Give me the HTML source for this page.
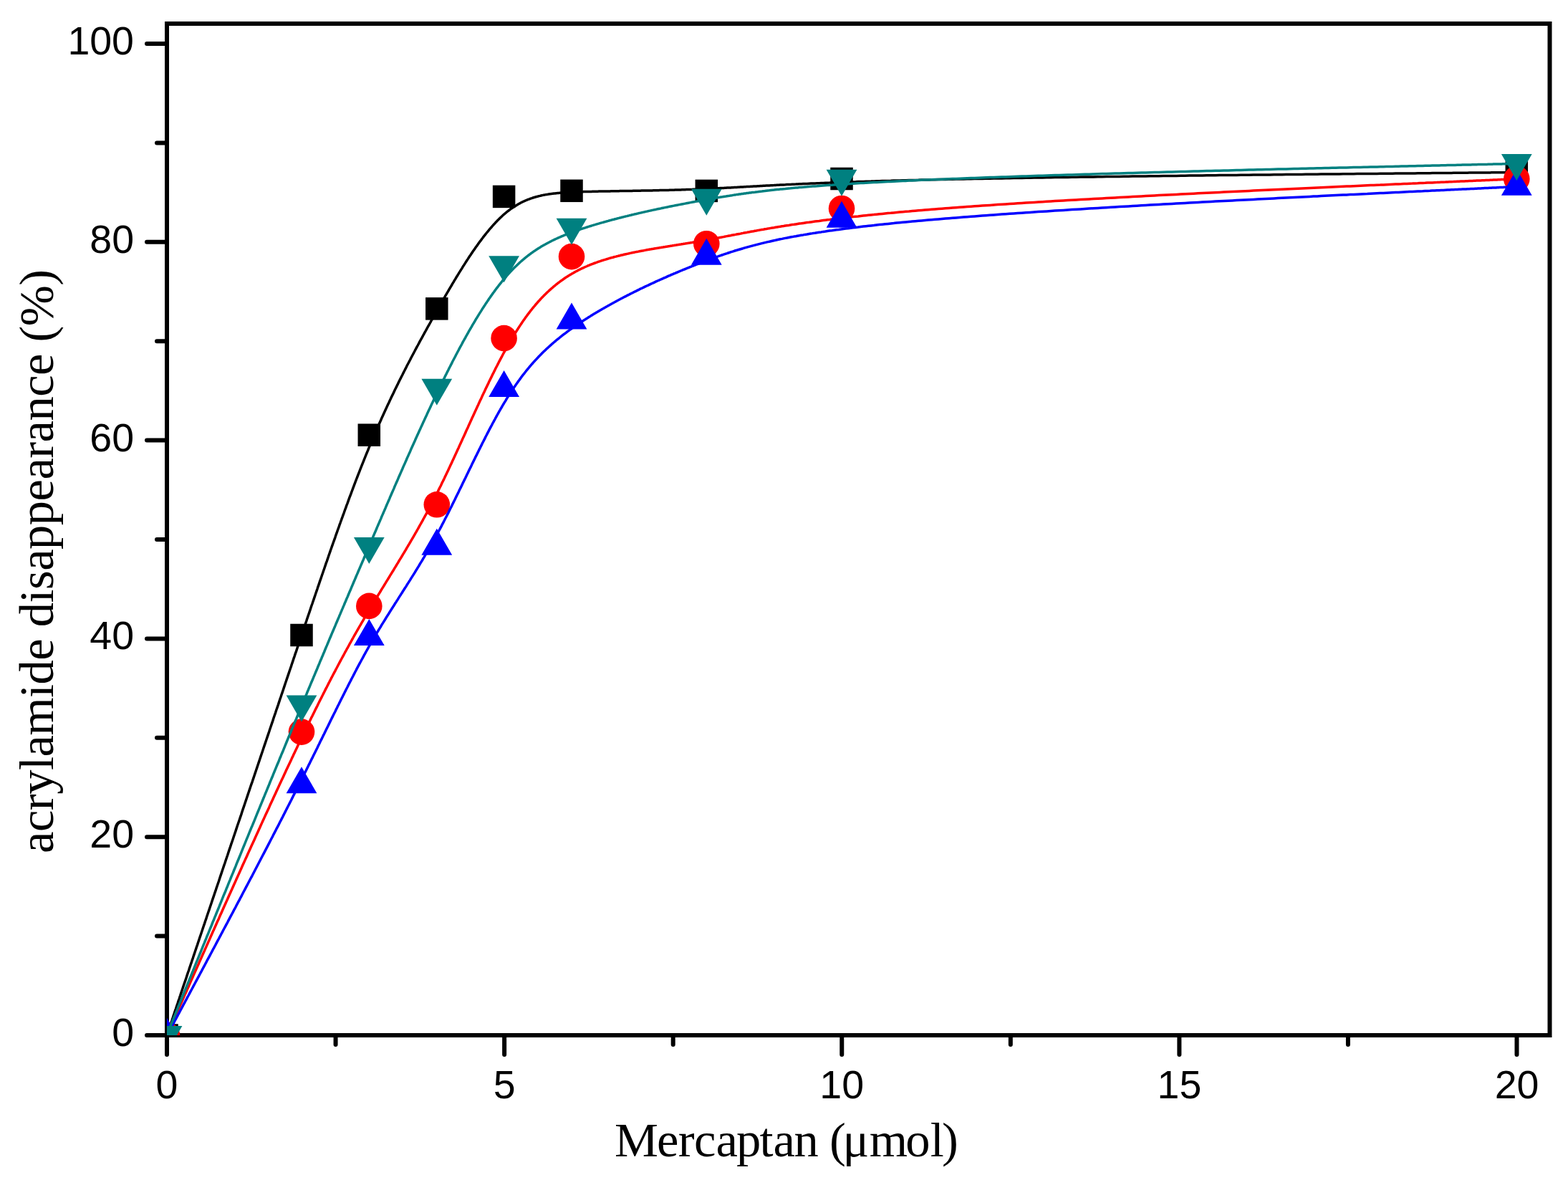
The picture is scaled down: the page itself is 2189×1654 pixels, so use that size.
<!DOCTYPE html>
<html><head><meta charset="utf-8"><style>
html,body{margin:0;padding:0;background:#fff;}
.sa{font-family:"Liberation Sans",Arial,sans-serif;}
.se{font-family:"Liberation Serif","Times New Roman",serif;}
body{width:2189px;height:1654px;overflow:hidden;}
svg{display:block;}
</style></head><body>
<svg width="2189" height="1654" viewBox="0 0 2189 1654">
<rect x="0" y="0" width="2189" height="1654" fill="#ffffff"/>
<defs><clipPath id="c"><rect x="233.0" y="33.0" width="1930.5" height="1412.0"/></clipPath></defs>
<rect x="233.0" y="33.0" width="1930.5" height="1412.0" fill="none" stroke="#000" stroke-width="6" stroke-linejoin="miter"/>
<path d="M233.0,1445.00 L205,1445.00 M233.0,1306.60 L219,1306.60 M233.0,1168.20 L205,1168.20 M233.0,1029.80 L219,1029.80 M233.0,891.40 L205,891.40 M233.0,753.00 L219,753.00 M233.0,614.60 L205,614.60 M233.0,476.20 L219,476.20 M233.0,337.80 L205,337.80 M233.0,199.40 L219,199.40 M233.0,61.00 L205,61.00 M233.00,1445.0 L233.00,1472 M468.56,1445.0 L468.56,1458 M704.12,1445.0 L704.12,1472 M939.69,1445.0 L939.69,1458 M1175.25,1445.0 L1175.25,1472 M1410.81,1445.0 L1410.81,1458 M1646.38,1445.0 L1646.38,1472 M1881.94,1445.0 L1881.94,1458 M2117.50,1445.0 L2117.50,1472" stroke="#000" stroke-width="6" stroke-linecap="round" fill="none"/>
<text x="187" y="1460.0" text-anchor="end" class="sa" font-size="55.5">0</text>
<text x="187" y="1183.2" text-anchor="end" class="sa" font-size="55.5">20</text>
<text x="187" y="906.4" text-anchor="end" class="sa" font-size="55.5">40</text>
<text x="187" y="629.6" text-anchor="end" class="sa" font-size="55.5">60</text>
<text x="187" y="352.8" text-anchor="end" class="sa" font-size="55.5">80</text>
<text x="187" y="76.0" text-anchor="end" class="sa" font-size="55.5">100</text>
<text x="233.0" y="1533" text-anchor="middle" class="sa" font-size="55.5">0</text>
<text x="704.1" y="1533" text-anchor="middle" class="sa" font-size="55.5">5</text>
<text x="1175.2" y="1533" text-anchor="middle" class="sa" font-size="55.5">10</text>
<text x="1646.4" y="1533" text-anchor="middle" class="sa" font-size="55.5">15</text>
<text x="2117.5" y="1533" text-anchor="middle" class="sa" font-size="55.5">20</text>
<text x="857.93 917.12 946.63 969.09 999.49 1027.9 1060.43 1079.49 1108.43 1142.68 1157.89 1176.55 1213.66 1264.19 1298.63 1315.1" y="1614" class="se" font-size="68.5">Mercaptan (&#956;mol)</text>
<text transform="translate(73.8,1190.9) rotate(-90)" x="0" y="0" class="se" font-size="68.5" style="letter-spacing:-0.52px">acrylamide disappearance (%)</text>
<g clip-path="url(#c)">
<path d="M233.0,1445.0 L233.0,1445.0 L233.0,1445.0 L233.0,1445.0 L233.0,1445.0 L233.0,1445.0 L233.0,1445.0 L233.0,1445.0 L233.0,1445.0 L233.0,1445.0 L233.0,1444.9 L233.0,1444.9 L233.0,1444.9 L233.0,1444.9 L233.0,1444.9 L233.1,1444.8 L233.1,1444.8 L233.1,1444.7 L233.1,1444.7 L233.1,1444.6 L233.1,1444.6 L233.2,1444.5 L233.2,1444.4 L233.2,1444.3 L233.3,1444.3 L233.3,1444.2 L233.3,1444.1 L233.4,1443.9 L233.4,1443.8 L233.4,1443.7 L233.5,1443.5 L233.5,1443.4 L233.6,1443.2 L233.7,1443.1 L233.7,1442.9 L233.8,1442.7 L233.8,1442.5 L233.9,1442.3 L234.0,1442.0 L234.1,1441.8 L234.2,1441.6 L234.2,1441.3 L234.3,1441.0 L234.4,1440.7 L234.5,1440.4 L234.7,1440.1 L234.8,1439.8 L234.9,1439.4 L235.0,1439.0 L235.1,1438.7 L235.3,1438.3 L235.4,1437.9 L235.5,1437.4 L235.7,1437.0 L235.9,1436.5 L236.0,1436.0 L236.2,1435.5 L236.4,1435.0 L236.5,1434.5 L236.7,1433.9 L236.9,1433.4 L237.1,1432.8 L237.3,1432.2 L237.5,1431.5 L237.8,1430.9 L238.0,1430.2 L238.2,1429.5 L238.5,1428.8 L238.7,1428.1 L239.0,1427.3 L239.2,1426.5 L239.5,1425.7 L239.8,1424.9 L240.1,1424.0 L240.3,1423.2 L240.6,1422.3 L241.0,1421.4 L241.3,1420.4 L241.6,1419.4 L241.9,1418.4 L242.3,1417.4 L242.6,1416.4 L243.0,1415.3 L243.4,1414.2 L243.7,1413.1 L244.1,1411.9 L244.5,1410.7 L244.9,1409.5 L245.4,1408.3 L245.8,1407.0 L246.2,1405.7 L246.7,1404.4 L247.1,1403.1 L247.6,1401.7 L248.1,1400.3 L248.5,1398.8 L249.0,1397.3 L249.5,1395.8 L250.1,1394.3 L250.6,1392.7 L251.1,1391.1 L251.7,1389.5 L252.2,1387.8 L252.8,1386.1 L253.4,1384.4 L254.0,1382.6 L254.6,1380.8 L255.2,1379.0 L255.8,1377.1 L256.5,1375.2 L257.1,1373.3 L257.8,1371.3 L258.5,1369.3 L259.2,1367.3 L259.9,1365.2 L260.6,1363.1 L261.3,1360.9 L262.0,1358.7 L262.8,1356.5 L263.6,1354.2 L264.3,1351.9 L265.1,1349.6 L265.9,1347.2 L266.7,1344.8 L267.6,1342.3 L268.4,1339.8 L269.3,1337.3 L270.1,1334.7 L271.0,1332.1 L271.9,1329.5 L272.8,1326.8 L273.7,1324.1 L274.6,1321.3 L275.6,1318.6 L276.5,1315.8 L277.5,1312.9 L278.4,1310.0 L279.4,1307.1 L280.4,1304.2 L281.4,1301.3 L282.4,1298.3 L283.4,1295.2 L284.4,1292.2 L285.5,1289.1 L286.5,1286.0 L287.6,1282.9 L288.6,1279.7 L289.7,1276.5 L290.8,1273.3 L291.9,1270.1 L293.0,1266.8 L294.1,1263.5 L295.2,1260.2 L296.3,1256.9 L297.4,1253.6 L298.6,1250.2 L299.7,1246.8 L300.9,1243.4 L302.0,1239.9 L303.2,1236.5 L304.4,1233.0 L305.6,1229.5 L306.7,1226.0 L307.9,1222.4 L309.1,1218.9 L310.3,1215.3 L311.5,1211.7 L312.7,1208.1 L314.0,1204.5 L315.2,1200.8 L316.4,1197.2 L317.7,1193.5 L318.9,1189.8 L320.1,1186.1 L321.4,1182.4 L322.6,1178.7 L323.9,1175.0 L325.2,1171.2 L326.4,1167.5 L327.7,1163.7 L329.0,1159.9 L330.2,1156.1 L331.5,1152.3 L332.8,1148.5 L334.1,1144.7 L335.4,1140.9 L336.7,1137.1 L337.9,1133.3 L339.2,1129.4 L340.5,1125.6 L341.8,1121.7 L343.1,1117.9 L344.4,1114.0 L345.7,1110.1 L347.0,1106.3 L348.3,1102.4 L349.6,1098.5 L350.9,1094.6 L352.3,1090.8 L353.6,1086.9 L354.9,1083.0 L356.2,1079.1 L357.5,1075.3 L358.8,1071.4 L360.1,1067.5 L361.4,1063.6 L362.7,1059.8 L364.0,1055.9 L365.3,1052.0 L366.6,1048.2 L367.9,1044.3 L369.2,1040.4 L370.5,1036.6 L371.8,1032.8 L373.1,1028.9 L374.4,1025.1 L375.7,1021.3 L376.9,1017.5 L378.2,1013.7 L379.5,1009.9 L380.8,1006.1 L382.0,1002.3 L383.3,998.5 L384.6,994.8 L385.8,991.0 L387.1,987.3 L388.4,983.6 L389.6,979.9 L390.8,976.2 L392.1,972.5 L393.3,968.8 L394.6,965.2 L395.8,961.5 L397.0,957.9 L398.2,954.3 L399.4,950.7 L400.6,947.1 L401.8,943.6 L403.0,940.1 L404.2,936.5 L405.4,933.0 L406.6,929.6 L407.7,926.1 L408.9,922.6 L410.0,919.2 L411.2,915.8 L412.3,912.4 L413.5,909.1 L414.6,905.7 L415.7,902.4 L416.8,899.1 L417.9,895.8 L419.0,892.5 L420.1,889.3 L421.2,886.0 L422.3,882.8 L423.4,879.6 L424.5,876.4 L425.6,873.2 L426.6,870.1 L427.7,867.0 L428.7,863.8 L429.8,860.7 L430.8,857.7 L431.9,854.6 L432.9,851.6 L433.9,848.5 L434.9,845.5 L436.0,842.5 L437.0,839.5 L438.0,836.6 L439.0,833.6 L440.0,830.7 L441.0,827.8 L442.0,824.9 L443.0,822.0 L443.9,819.1 L444.9,816.3 L445.9,813.4 L446.8,810.6 L447.8,807.8 L448.8,805.0 L449.7,802.3 L450.7,799.5 L451.6,796.8 L452.6,794.0 L453.5,791.3 L454.4,788.6 L455.3,785.9 L456.3,783.3 L457.2,780.6 L458.1,778.0 L459.0,775.3 L459.9,772.7 L460.8,770.1 L461.7,767.5 L462.6,765.0 L463.5,762.4 L464.4,759.9 L465.3,757.3 L466.2,754.8 L467.1,752.3 L468.0,749.8 L468.8,747.3 L469.7,744.9 L470.6,742.4 L471.4,740.0 L472.3,737.6 L473.2,735.1 L474.0,732.7 L474.9,730.3 L475.7,728.0 L476.6,725.6 L477.4,723.3 L478.3,720.9 L479.1,718.6 L480.0,716.3 L480.8,714.0 L481.6,711.7 L482.5,709.4 L483.3,707.1 L484.1,704.8 L485.0,702.6 L485.8,700.4 L486.6,698.1 L487.4,695.9 L488.2,693.7 L489.1,691.5 L489.9,689.3 L490.7,687.2 L491.5,685.0 L492.3,682.8 L493.1,680.7 L493.9,678.6 L494.7,676.4 L495.5,674.3 L496.3,672.2 L497.1,670.1 L497.9,668.0 L498.7,666.0 L499.5,663.9 L500.3,661.8 L501.1,659.8 L501.9,657.8 L502.7,655.7 L503.5,653.7 L504.3,651.7 L505.1,649.7 L505.9,647.7 L506.7,645.7 L507.5,643.7 L508.2,641.8 L509.0,639.8 L509.8,637.8 L510.6,635.9 L511.4,633.9 L512.2,632.0 L513.0,630.1 L513.8,628.2 L514.5,626.3 L515.3,624.4 L516.1,622.5 L516.9,620.6 L517.7,618.7 L518.5,616.8 L519.3,615.0 L520.1,613.1 L520.8,611.3 L521.6,609.4 L522.4,607.6 L523.2,605.7 L524.0,603.9 L524.8,602.1 L525.6,600.3 L526.3,598.5 L527.1,596.7 L527.9,594.9 L528.7,593.1 L529.5,591.3 L530.3,589.5 L531.1,587.8 L531.9,586.0 L532.6,584.2 L533.4,582.5 L534.2,580.8 L535.0,579.0 L535.8,577.3 L536.6,575.6 L537.4,573.8 L538.2,572.1 L538.9,570.4 L539.7,568.7 L540.5,567.0 L541.3,565.3 L542.1,563.6 L542.9,562.0 L543.7,560.3 L544.4,558.6 L545.2,557.0 L546.0,555.3 L546.8,553.6 L547.6,552.0 L548.4,550.4 L549.2,548.7 L550.0,547.1 L550.7,545.5 L551.5,543.8 L552.3,542.2 L553.1,540.6 L553.9,539.0 L554.7,537.4 L555.5,535.8 L556.2,534.2 L557.0,532.6 L557.8,531.0 L558.6,529.4 L559.4,527.9 L560.2,526.3 L561.0,524.7 L561.8,523.2 L562.5,521.6 L563.3,520.1 L564.1,518.5 L564.9,517.0 L565.7,515.4 L566.5,513.9 L567.3,512.3 L568.0,510.8 L568.8,509.3 L569.6,507.8 L570.4,506.3 L571.2,504.7 L572.0,503.2 L572.8,501.7 L573.5,500.2 L574.3,498.7 L575.1,497.2 L575.9,495.7 L576.7,494.2 L577.5,492.8 L578.3,491.3 L579.1,489.8 L579.8,488.3 L580.6,486.9 L581.4,485.4 L582.2,483.9 L583.0,482.5 L583.8,481.0 L584.6,479.5 L585.3,478.1 L586.1,476.6 L586.9,475.2 L587.7,473.7 L588.5,472.3 L589.3,470.9 L590.1,469.4 L590.8,468.0 L591.6,466.6 L592.4,465.1 L593.2,463.7 L594.0,462.3 L594.8,460.8 L595.6,459.4 L596.3,458.0 L597.1,456.6 L597.9,455.2 L598.7,453.8 L599.5,452.4 L600.3,451.0 L601.1,449.5 L601.8,448.1 L602.6,446.7 L603.4,445.3 L604.2,443.9 L605.0,442.5 L605.8,441.2 L606.5,439.8 L607.3,438.4 L608.1,437.0 L608.9,435.6 L609.7,434.2 L610.5,432.8 L611.3,431.4 L612.0,430.0 L612.8,428.7 L613.6,427.3 L614.4,425.9 L615.2,424.5 L616.0,423.2 L616.7,421.8 L617.5,420.4 L618.3,419.0 L619.1,417.7 L619.9,416.3 L620.7,415.0 L621.4,413.6 L622.2,412.2 L623.0,410.9 L623.8,409.5 L624.6,408.2 L625.4,406.8 L626.2,405.5 L626.9,404.2 L627.7,402.8 L628.5,401.5 L629.3,400.2 L630.1,398.8 L630.9,397.5 L631.6,396.2 L632.4,394.9 L633.2,393.6 L634.0,392.2 L634.8,390.9 L635.6,389.6 L636.3,388.3 L637.1,387.0 L637.9,385.7 L638.7,384.5 L639.5,383.2 L640.3,381.9 L641.0,380.6 L641.8,379.4 L642.6,378.1 L643.4,376.8 L644.2,375.6 L645.0,374.3 L645.7,373.1 L646.5,371.8 L647.3,370.6 L648.1,369.4 L648.9,368.1 L649.7,366.9 L650.4,365.7 L651.2,364.5 L652.0,363.3 L652.8,362.1 L653.6,360.9 L654.3,359.7 L655.1,358.5 L655.9,357.3 L656.7,356.2 L657.5,355.0 L658.3,353.8 L659.0,352.7 L659.8,351.5 L660.6,350.4 L661.4,349.2 L662.2,348.1 L663.0,347.0 L663.7,345.9 L664.5,344.8 L665.3,343.7 L666.1,342.6 L666.9,341.5 L667.7,340.4 L668.4,339.3 L669.2,338.2 L670.0,337.2 L670.8,336.1 L671.6,335.1 L672.4,334.0 L673.1,333.0 L673.9,332.0 L674.7,330.9 L675.5,329.9 L676.3,328.9 L677.1,327.9 L677.8,326.9 L678.6,326.0 L679.4,325.0 L680.2,324.0 L681.0,323.1 L681.8,322.1 L682.5,321.2 L683.3,320.2 L684.1,319.3 L684.9,318.4 L685.7,317.5 L686.5,316.6 L687.2,315.7 L688.0,314.8 L688.8,313.9 L689.6,313.1 L690.4,312.2 L691.2,311.4 L691.9,310.5 L692.7,309.7 L693.5,308.9 L694.3,308.1 L695.1,307.3 L695.9,306.5 L696.6,305.7 L697.4,304.9 L698.2,304.2 L699.0,303.4 L699.8,302.7 L700.6,302.0 L701.3,301.2 L702.1,300.5 L702.9,299.8 L703.7,299.1 L704.5,298.5 L705.3,297.8 L706.1,297.1 L706.8,296.5 L707.6,295.8 L708.4,295.2 L709.2,294.6 L710.0,294.0 L710.8,293.4 L711.6,292.8 L712.3,292.2 L713.1,291.6 L713.9,291.1 L714.7,290.5 L715.5,290.0 L716.3,289.4 L717.1,288.9 L717.9,288.4 L718.7,287.9 L719.5,287.4 L720.3,286.9 L721.1,286.4 L721.9,285.9 L722.7,285.5 L723.5,285.0 L724.3,284.5 L725.1,284.1 L725.9,283.7 L726.7,283.2 L727.5,282.8 L728.3,282.4 L729.1,282.0 L729.9,281.6 L730.7,281.2 L731.6,280.9 L732.4,280.5 L733.2,280.1 L734.0,279.8 L734.8,279.4 L735.7,279.1 L736.5,278.7 L737.3,278.4 L738.2,278.1 L739.0,277.8 L739.8,277.5 L740.7,277.2 L741.5,276.9 L742.4,276.6 L743.2,276.3 L744.1,276.0 L744.9,275.8 L745.8,275.5 L746.7,275.2 L747.5,275.0 L748.4,274.7 L749.3,274.5 L750.1,274.3 L751.0,274.1 L751.9,273.8 L752.8,273.6 L753.7,273.4 L754.5,273.2 L755.4,273.0 L756.3,272.8 L757.2,272.6 L758.1,272.4 L759.0,272.2 L759.9,272.1 L760.9,271.9 L761.8,271.7 L762.7,271.6 L763.6,271.4 L764.6,271.3 L765.5,271.1 L766.4,271.0 L767.4,270.8 L768.3,270.7 L769.3,270.6 L770.2,270.4 L771.2,270.3 L772.1,270.2 L773.1,270.1 L774.1,270.0 L775.1,269.9 L776.0,269.8 L777.0,269.7 L778.0,269.6 L779.0,269.5 L780.0,269.4 L781.0,269.3 L782.0,269.2 L783.0,269.1 L784.0,269.0 L785.1,269.0 L786.1,268.9 L787.1,268.8 L788.2,268.7 L789.2,268.7 L790.3,268.6 L791.3,268.6 L792.4,268.5 L793.5,268.4 L794.5,268.4 L795.6,268.3 L796.7,268.3 L797.8,268.2 L798.9,268.2 L800.0,268.1 L801.1,268.1 L802.2,268.0 L803.3,268.0 L804.4,268.0 L805.6,267.9 L806.7,267.9 L807.8,267.8 L809.0,267.8 L810.1,267.8 L811.3,267.7 L812.5,267.7 L813.6,267.7 L814.8,267.6 L816.0,267.6 L817.2,267.6 L818.4,267.5 L819.6,267.5 L820.8,267.5 L822.1,267.4 L823.3,267.4 L824.5,267.4 L825.7,267.4 L827.0,267.3 L828.2,267.3 L829.5,267.3 L830.8,267.2 L832.0,267.2 L833.3,267.2 L834.6,267.2 L835.9,267.1 L837.1,267.1 L838.4,267.1 L839.7,267.1 L841.0,267.0 L842.4,267.0 L843.7,267.0 L845.0,267.0 L846.3,266.9 L847.7,266.9 L849.0,266.9 L850.3,266.9 L851.7,266.9 L853.0,266.8 L854.4,266.8 L855.7,266.8 L857.1,266.8 L858.5,266.7 L859.9,266.7 L861.2,266.7 L862.6,266.7 L864.0,266.7 L865.4,266.6 L866.8,266.6 L868.2,266.6 L869.6,266.6 L871.0,266.5 L872.4,266.5 L873.9,266.5 L875.3,266.5 L876.7,266.5 L878.1,266.4 L879.6,266.4 L881.0,266.4 L882.4,266.4 L883.9,266.3 L885.3,266.3 L886.8,266.3 L888.3,266.3 L889.7,266.2 L891.2,266.2 L892.6,266.2 L894.1,266.2 L895.6,266.1 L897.1,266.1 L898.5,266.1 L900.0,266.1 L901.5,266.0 L903.0,266.0 L904.5,266.0 L906.0,266.0 L907.5,265.9 L909.0,265.9 L910.5,265.9 L912.0,265.8 L913.5,265.8 L915.0,265.8 L916.5,265.7 L918.0,265.7 L919.6,265.7 L921.1,265.6 L922.6,265.6 L924.1,265.6 L925.7,265.5 L927.2,265.5 L928.7,265.5 L930.3,265.4 L931.8,265.4 L933.3,265.4 L934.9,265.3 L936.4,265.3 L938.0,265.2 L939.5,265.2 L941.0,265.2 L942.6,265.1 L944.1,265.1 L945.7,265.0 L947.2,265.0 L948.8,264.9 L950.4,264.9 L951.9,264.8 L953.5,264.8 L955.0,264.8 L956.6,264.7 L958.1,264.6 L959.7,264.6 L961.3,264.5 L962.8,264.5 L964.4,264.4 L966.0,264.4 L967.5,264.3 L969.1,264.3 L970.7,264.2 L972.2,264.2 L973.8,264.1 L975.4,264.0 L976.9,264.0 L978.5,263.9 L980.1,263.8 L981.7,263.8 L983.2,263.7 L984.8,263.6 L986.4,263.6 L987.9,263.5 L989.5,263.4 L991.1,263.4 L992.7,263.3 L994.2,263.2 L995.8,263.1 L997.4,263.0 L999.0,263.0 L1000.6,262.9 L1002.1,262.8 L1003.7,262.7 L1005.3,262.6 L1006.9,262.6 L1008.6,262.5 L1010.2,262.4 L1011.8,262.3 L1013.4,262.2 L1015.1,262.1 L1016.7,262.0 L1018.4,261.9 L1020.0,261.9 L1021.7,261.8 L1023.4,261.7 L1025.1,261.6 L1026.8,261.5 L1028.5,261.4 L1030.2,261.3 L1032.0,261.2 L1033.7,261.1 L1035.5,261.0 L1037.2,260.9 L1039.0,260.8 L1040.8,260.7 L1042.6,260.6 L1044.5,260.5 L1046.3,260.4 L1048.2,260.3 L1050.1,260.2 L1052.0,260.1 L1053.9,260.0 L1055.8,259.9 L1057.7,259.8 L1059.7,259.7 L1061.7,259.5 L1063.7,259.4 L1065.7,259.3 L1067.8,259.2 L1069.8,259.1 L1071.9,259.0 L1074.0,258.9 L1076.2,258.8 L1078.3,258.7 L1080.5,258.6 L1082.7,258.4 L1084.9,258.3 L1087.1,258.2 L1089.4,258.1 L1091.7,258.0 L1094.0,257.9 L1096.4,257.8 L1098.7,257.6 L1101.1,257.5 L1103.5,257.4 L1106.0,257.3 L1108.5,257.2 L1111.0,257.1 L1113.5,256.9 L1116.1,256.8 L1118.7,256.7 L1121.3,256.6 L1124.0,256.5 L1126.7,256.4 L1129.4,256.2 L1132.1,256.1 L1134.9,256.0 L1137.7,255.9 L1140.6,255.8 L1143.5,255.7 L1146.4,255.5 L1149.3,255.4 L1152.3,255.3 L1155.3,255.2 L1158.4,255.1 L1161.5,254.9 L1164.6,254.8 L1167.8,254.7 L1171.0,254.6 L1174.2,254.5 L1177.5,254.4 L1180.8,254.2 L1184.2,254.1 L1187.6,254.0 L1191.0,253.9 L1194.5,253.8 L1198.0,253.6 L1201.6,253.5 L1205.2,253.4 L1208.8,253.3 L1212.5,253.2 L1216.2,253.1 L1220.0,252.9 L1223.8,252.8 L1227.7,252.7 L1231.6,252.6 L1235.6,252.5 L1239.6,252.4 L1243.6,252.3 L1247.7,252.1 L1251.8,252.0 L1256.0,251.9 L1260.3,251.8 L1264.5,251.7 L1268.9,251.6 L1273.3,251.5 L1277.7,251.4 L1282.2,251.3 L1286.7,251.1 L1291.3,251.0 L1295.9,250.9 L1300.6,250.8 L1305.3,250.7 L1310.1,250.6 L1315.0,250.5 L1319.9,250.4 L1324.8,250.3 L1329.8,250.2 L1334.8,250.1 L1339.9,250.0 L1345.0,249.9 L1350.2,249.8 L1355.4,249.7 L1360.6,249.6 L1365.9,249.5 L1371.3,249.4 L1376.6,249.3 L1382.0,249.2 L1387.5,249.1 L1392.9,249.0 L1398.5,248.9 L1404.0,248.8 L1409.6,248.7 L1415.2,248.6 L1420.8,248.5 L1426.5,248.4 L1432.2,248.3 L1437.9,248.2 L1443.7,248.1 L1449.5,248.0 L1455.3,247.9 L1461.1,247.8 L1467.0,247.7 L1472.8,247.6 L1478.7,247.6 L1484.6,247.5 L1490.6,247.4 L1496.5,247.3 L1502.5,247.2 L1508.5,247.1 L1514.5,247.0 L1520.5,246.9 L1526.5,246.9 L1532.6,246.8 L1538.6,246.7 L1544.7,246.6 L1550.7,246.5 L1556.8,246.4 L1562.9,246.4 L1569.0,246.3 L1575.1,246.2 L1581.2,246.1 L1587.3,246.0 L1593.4,246.0 L1599.5,245.9 L1605.6,245.8 L1611.7,245.7 L1617.8,245.7 L1623.9,245.6 L1630.0,245.5 L1636.1,245.4 L1642.2,245.4 L1648.3,245.3 L1654.4,245.2 L1660.4,245.1 L1666.5,245.1 L1672.5,245.0 L1678.6,244.9 L1684.6,244.8 L1690.6,244.8 L1696.6,244.7 L1702.6,244.6 L1708.5,244.6 L1714.5,244.5 L1720.4,244.4 L1726.3,244.4 L1732.2,244.3 L1738.1,244.2 L1743.9,244.2 L1749.8,244.1 L1755.5,244.1 L1761.3,244.0 L1767.1,243.9 L1772.8,243.9 L1778.5,243.8 L1784.1,243.8 L1789.8,243.7 L1795.4,243.6 L1800.9,243.6 L1806.5,243.5 L1812.0,243.5 L1817.4,243.4 L1822.9,243.3 L1828.3,243.3 L1833.6,243.2 L1838.9,243.2 L1844.2,243.1 L1849.4,243.1 L1854.6,243.0 L1859.8,243.0 L1864.9,242.9 L1869.9,242.9 L1875.0,242.8 L1879.9,242.8 L1884.9,242.7 L1889.7,242.7 L1894.5,242.6 L1899.3,242.6 L1904.0,242.5 L1908.7,242.5 L1913.3,242.5 L1917.9,242.4 L1922.4,242.4 L1926.8,242.3 L1931.2,242.3 L1935.5,242.2 L1939.8,242.2 L1944.0,242.2 L1948.2,242.1 L1952.3,242.1 L1956.3,242.0 L1960.2,242.0 L1964.1,242.0 L1968.0,241.9 L1971.7,241.9 L1975.4,241.9 L1979.1,241.8 L1982.6,241.8 L1986.2,241.8 L1989.6,241.7 L1993.0,241.7 L1996.3,241.7 L1999.6,241.6 L2002.8,241.6 L2006.0,241.6 L2009.1,241.5 L2012.1,241.5 L2015.1,241.5 L2018.0,241.4 L2020.9,241.4 L2023.7,241.4 L2026.4,241.4 L2029.1,241.3 L2031.8,241.3 L2034.4,241.3 L2036.9,241.3 L2039.4,241.2 L2041.8,241.2 L2044.2,241.2 L2046.5,241.2 L2048.8,241.2 L2051.0,241.1 L2053.2,241.1 L2055.4,241.1 L2057.5,241.1 L2059.5,241.1 L2061.5,241.0 L2063.4,241.0 L2065.3,241.0 L2067.2,241.0 L2069.0,241.0 L2070.8,240.9 L2072.5,240.9 L2074.2,240.9 L2075.8,240.9 L2077.4,240.9 L2079.0,240.9 L2080.5,240.9 L2081.9,240.8 L2083.4,240.8 L2084.8,240.8 L2086.1,240.8 L2087.4,240.8 L2088.7,240.8 L2090.0,240.8 L2091.2,240.7 L2092.3,240.7 L2093.5,240.7 L2094.6,240.7 L2095.6,240.7 L2096.7,240.7 L2097.7,240.7 L2098.6,240.7 L2099.6,240.7 L2100.5,240.7 L2101.3,240.7 L2102.2,240.6 L2103.0,240.6 L2103.8,240.6 L2104.5,240.6 L2105.2,240.6 L2105.9,240.6 L2106.6,240.6 L2107.2,240.6 L2107.9,240.6 L2108.5,240.6 L2109.0,240.6 L2109.6,240.6 L2110.1,240.6 L2110.6,240.6 L2111.0,240.6 L2111.5,240.6 L2111.9,240.6 L2112.3,240.5 L2112.7,240.5 L2113.1,240.5 L2113.4,240.5 L2113.7,240.5 L2114.0,240.5 L2114.3,240.5 L2114.6,240.5 L2114.8,240.5 L2115.1,240.5 L2115.3,240.5 L2115.5,240.5 L2115.7,240.5 L2115.9,240.5 L2116.0,240.5 L2116.2,240.5 L2116.3,240.5 L2116.5,240.5 L2116.6,240.5 L2116.7,240.5 L2116.8,240.5 L2116.9,240.5 L2116.9,240.5 L2117.0,240.5 L2117.1,240.5 L2117.1,240.5 L2117.1,240.5 L2117.2,240.5 L2117.2,240.5 L2117.2,240.5 L2117.3,240.5 L2117.3,240.5 L2117.3,240.5 L2117.3,240.5 L2117.3,240.5 L2117.3,240.5 L2117.3,240.5 L2117.3,240.5 L2117.3,240.5" stroke="#000000" stroke-width="3.5" fill="none" stroke-linejoin="round"/>
<rect x="217.25" y="1429.25" width="31.5" height="31.5" fill="#000000"/>
<rect x="405.25" y="870.75" width="31.5" height="31.5" fill="#000000"/>
<rect x="499.55" y="591.45" width="31.5" height="31.5" fill="#000000"/>
<rect x="594.05" y="415.15" width="31.5" height="31.5" fill="#000000"/>
<rect x="687.85" y="258.65" width="31.5" height="31.5" fill="#000000"/>
<rect x="782.25" y="250.55" width="31.5" height="31.5" fill="#000000"/>
<rect x="970.55" y="250.65" width="31.5" height="31.5" fill="#000000"/>
<rect x="1159.25" y="233.75" width="31.5" height="31.5" fill="#000000"/>
<rect x="2101.55" y="224.75" width="31.5" height="31.5" fill="#000000"/>
<path d="M233.0,1445.0 L233.0,1445.0 L233.0,1445.0 L233.0,1445.0 L233.0,1445.0 L233.0,1445.0 L233.0,1445.0 L233.0,1445.0 L233.0,1445.0 L233.0,1445.0 L233.0,1445.0 L233.0,1444.9 L233.0,1444.9 L233.0,1444.9 L233.0,1444.9 L233.1,1444.9 L233.1,1444.8 L233.1,1444.8 L233.1,1444.8 L233.1,1444.7 L233.1,1444.7 L233.2,1444.6 L233.2,1444.6 L233.2,1444.5 L233.3,1444.4 L233.3,1444.4 L233.3,1444.3 L233.4,1444.2 L233.4,1444.1 L233.4,1444.0 L233.5,1443.9 L233.5,1443.8 L233.6,1443.7 L233.7,1443.5 L233.7,1443.4 L233.8,1443.2 L233.8,1443.1 L233.9,1442.9 L234.0,1442.8 L234.1,1442.6 L234.2,1442.4 L234.2,1442.2 L234.3,1442.0 L234.4,1441.8 L234.5,1441.5 L234.7,1441.3 L234.8,1441.0 L234.9,1440.8 L235.0,1440.5 L235.1,1440.2 L235.3,1439.9 L235.4,1439.6 L235.5,1439.3 L235.7,1438.9 L235.9,1438.6 L236.0,1438.2 L236.2,1437.8 L236.4,1437.4 L236.5,1437.0 L236.7,1436.6 L236.9,1436.2 L237.1,1435.7 L237.3,1435.3 L237.5,1434.8 L237.8,1434.3 L238.0,1433.8 L238.2,1433.3 L238.5,1432.7 L238.7,1432.2 L239.0,1431.6 L239.2,1431.0 L239.5,1430.4 L239.8,1429.8 L240.1,1429.1 L240.3,1428.5 L240.6,1427.8 L241.0,1427.1 L241.3,1426.4 L241.6,1425.6 L241.9,1424.9 L242.3,1424.1 L242.6,1423.3 L243.0,1422.5 L243.4,1421.6 L243.7,1420.8 L244.1,1419.9 L244.5,1419.0 L244.9,1418.1 L245.4,1417.2 L245.8,1416.2 L246.2,1415.2 L246.7,1414.2 L247.1,1413.2 L247.6,1412.2 L248.1,1411.1 L248.5,1410.0 L249.0,1408.9 L249.5,1407.7 L250.1,1406.6 L250.6,1405.4 L251.1,1404.2 L251.7,1402.9 L252.2,1401.7 L252.8,1400.4 L253.4,1399.1 L254.0,1397.7 L254.6,1396.4 L255.2,1395.0 L255.8,1393.6 L256.5,1392.1 L257.1,1390.6 L257.8,1389.1 L258.5,1387.6 L259.2,1386.1 L259.9,1384.5 L260.6,1382.9 L261.3,1381.3 L262.0,1379.6 L262.8,1377.9 L263.6,1376.2 L264.3,1374.4 L265.1,1372.7 L265.9,1370.8 L266.7,1369.0 L267.6,1367.1 L268.4,1365.3 L269.3,1363.3 L270.1,1361.4 L271.0,1359.4 L271.9,1357.4 L272.8,1355.4 L273.7,1353.3 L274.6,1351.3 L275.6,1349.2 L276.5,1347.0 L277.5,1344.9 L278.4,1342.7 L279.4,1340.5 L280.4,1338.3 L281.4,1336.1 L282.4,1333.8 L283.4,1331.5 L284.4,1329.2 L285.5,1326.9 L286.5,1324.5 L287.6,1322.2 L288.6,1319.8 L289.7,1317.4 L290.8,1314.9 L291.9,1312.5 L293.0,1310.0 L294.1,1307.5 L295.2,1305.0 L296.3,1302.5 L297.4,1300.0 L298.6,1297.5 L299.7,1294.9 L300.9,1292.3 L302.0,1289.7 L303.2,1287.1 L304.4,1284.5 L305.6,1281.9 L306.7,1279.2 L307.9,1276.5 L309.1,1273.9 L310.3,1271.2 L311.5,1268.5 L312.7,1265.8 L314.0,1263.0 L315.2,1260.3 L316.4,1257.6 L317.7,1254.8 L318.9,1252.0 L320.1,1249.3 L321.4,1246.5 L322.6,1243.7 L323.9,1240.9 L325.2,1238.1 L326.4,1235.3 L327.7,1232.5 L329.0,1229.6 L330.2,1226.8 L331.5,1224.0 L332.8,1221.1 L334.1,1218.3 L335.4,1215.4 L336.7,1212.6 L337.9,1209.7 L339.2,1206.8 L340.5,1204.0 L341.8,1201.1 L343.1,1198.2 L344.4,1195.4 L345.7,1192.5 L347.0,1189.6 L348.3,1186.7 L349.6,1183.9 L350.9,1181.0 L352.3,1178.1 L353.6,1175.2 L354.9,1172.4 L356.2,1169.5 L357.5,1166.6 L358.8,1163.7 L360.1,1160.9 L361.4,1158.0 L362.7,1155.2 L364.0,1152.3 L365.3,1149.4 L366.6,1146.6 L367.9,1143.8 L369.2,1140.9 L370.5,1138.1 L371.8,1135.3 L373.1,1132.5 L374.4,1129.7 L375.7,1126.9 L376.9,1124.1 L378.2,1121.3 L379.5,1118.5 L380.8,1115.7 L382.0,1113.0 L383.3,1110.2 L384.6,1107.5 L385.8,1104.8 L387.1,1102.0 L388.4,1099.3 L389.6,1096.6 L390.8,1094.0 L392.1,1091.3 L393.3,1088.6 L394.6,1086.0 L395.8,1083.4 L397.0,1080.8 L398.2,1078.2 L399.4,1075.6 L400.6,1073.0 L401.8,1070.4 L403.0,1067.9 L404.2,1065.4 L405.4,1062.9 L406.6,1060.4 L407.7,1057.9 L408.9,1055.5 L410.0,1053.0 L411.2,1050.6 L412.3,1048.2 L413.5,1045.8 L414.6,1043.5 L415.7,1041.1 L416.8,1038.8 L417.9,1036.4 L419.0,1034.1 L420.1,1031.8 L421.2,1029.6 L422.3,1027.3 L423.4,1025.1 L424.5,1022.8 L425.6,1020.6 L426.6,1018.4 L427.7,1016.2 L428.7,1014.1 L429.8,1011.9 L430.8,1009.8 L431.9,1007.6 L432.9,1005.5 L433.9,1003.4 L434.9,1001.3 L436.0,999.3 L437.0,997.2 L438.0,995.2 L439.0,993.2 L440.0,991.1 L441.0,989.1 L442.0,987.1 L443.0,985.2 L443.9,983.2 L444.9,981.3 L445.9,979.3 L446.8,977.4 L447.8,975.5 L448.8,973.6 L449.7,971.7 L450.7,969.8 L451.6,967.9 L452.6,966.1 L453.5,964.2 L454.4,962.4 L455.3,960.6 L456.3,958.8 L457.2,957.0 L458.1,955.2 L459.0,953.4 L459.9,951.7 L460.8,949.9 L461.7,948.2 L462.6,946.4 L463.5,944.7 L464.4,943.0 L465.3,941.3 L466.2,939.6 L467.1,937.9 L468.0,936.3 L468.8,934.6 L469.7,933.0 L470.6,931.3 L471.4,929.7 L472.3,928.0 L473.2,926.4 L474.0,924.8 L474.9,923.2 L475.7,921.6 L476.6,920.0 L477.4,918.5 L478.3,916.9 L479.1,915.4 L480.0,913.8 L480.8,912.3 L481.6,910.7 L482.5,909.2 L483.3,907.7 L484.1,906.2 L485.0,904.7 L485.8,903.2 L486.6,901.7 L487.4,900.2 L488.2,898.7 L489.1,897.2 L489.9,895.8 L490.7,894.3 L491.5,892.9 L492.3,891.4 L493.1,890.0 L493.9,888.5 L494.7,887.1 L495.5,885.7 L496.3,884.3 L497.1,882.9 L497.9,881.5 L498.7,880.1 L499.5,878.7 L500.3,877.3 L501.1,875.9 L501.9,874.5 L502.7,873.1 L503.5,871.8 L504.3,870.4 L505.1,869.0 L505.9,867.7 L506.7,866.3 L507.5,864.9 L508.2,863.6 L509.0,862.2 L509.8,860.9 L510.6,859.6 L511.4,858.2 L512.2,856.9 L513.0,855.6 L513.8,854.2 L514.5,852.9 L515.3,851.6 L516.1,850.3 L516.9,848.9 L517.7,847.6 L518.5,846.3 L519.3,845.0 L520.1,843.7 L520.8,842.4 L521.6,841.1 L522.4,839.8 L523.2,838.5 L524.0,837.2 L524.8,835.9 L525.6,834.6 L526.3,833.3 L527.1,832.0 L527.9,830.7 L528.7,829.4 L529.5,828.1 L530.3,826.8 L531.1,825.5 L531.9,824.2 L532.6,822.9 L533.4,821.7 L534.2,820.4 L535.0,819.1 L535.8,817.8 L536.6,816.5 L537.4,815.2 L538.2,813.9 L538.9,812.7 L539.7,811.4 L540.5,810.1 L541.3,808.8 L542.1,807.5 L542.9,806.2 L543.7,805.0 L544.4,803.7 L545.2,802.4 L546.0,801.1 L546.8,799.8 L547.6,798.5 L548.4,797.3 L549.2,796.0 L550.0,794.7 L550.7,793.4 L551.5,792.1 L552.3,790.8 L553.1,789.5 L553.9,788.2 L554.7,786.9 L555.5,785.6 L556.2,784.3 L557.0,783.0 L557.8,781.7 L558.6,780.4 L559.4,779.1 L560.2,777.8 L561.0,776.5 L561.8,775.2 L562.5,773.9 L563.3,772.6 L564.1,771.3 L564.9,770.0 L565.7,768.7 L566.5,767.3 L567.3,766.0 L568.0,764.7 L568.8,763.4 L569.6,762.0 L570.4,760.7 L571.2,759.4 L572.0,758.0 L572.8,756.7 L573.5,755.4 L574.3,754.0 L575.1,752.7 L575.9,751.3 L576.7,750.0 L577.5,748.6 L578.3,747.2 L579.1,745.9 L579.8,744.5 L580.6,743.1 L581.4,741.8 L582.2,740.4 L583.0,739.0 L583.8,737.6 L584.6,736.2 L585.3,734.8 L586.1,733.4 L586.9,732.0 L587.7,730.6 L588.5,729.2 L589.3,727.8 L590.1,726.4 L590.8,724.9 L591.6,723.5 L592.4,722.1 L593.2,720.6 L594.0,719.2 L594.8,717.7 L595.6,716.3 L596.3,714.8 L597.1,713.4 L597.9,711.9 L598.7,710.4 L599.5,708.9 L600.3,707.5 L601.1,706.0 L601.8,704.5 L602.6,703.0 L603.4,701.5 L604.2,700.0 L605.0,698.4 L605.8,696.9 L606.5,695.4 L607.3,693.8 L608.1,692.3 L608.9,690.8 L609.7,689.2 L610.5,687.6 L611.3,686.1 L612.0,684.5 L612.8,682.9 L613.6,681.3 L614.4,679.7 L615.2,678.2 L616.0,676.5 L616.7,674.9 L617.5,673.3 L618.3,671.7 L619.1,670.1 L619.9,668.5 L620.7,666.8 L621.4,665.2 L622.2,663.6 L623.0,661.9 L623.8,660.3 L624.6,658.6 L625.4,657.0 L626.2,655.3 L626.9,653.6 L627.7,652.0 L628.5,650.3 L629.3,648.6 L630.1,646.9 L630.9,645.3 L631.6,643.6 L632.4,641.9 L633.2,640.2 L634.0,638.5 L634.8,636.8 L635.6,635.1 L636.3,633.4 L637.1,631.7 L637.9,630.0 L638.7,628.3 L639.5,626.6 L640.3,624.9 L641.0,623.2 L641.8,621.4 L642.6,619.7 L643.4,618.0 L644.2,616.3 L645.0,614.6 L645.7,612.9 L646.5,611.1 L647.3,609.4 L648.1,607.7 L648.9,606.0 L649.7,604.3 L650.4,602.5 L651.2,600.8 L652.0,599.1 L652.8,597.4 L653.6,595.7 L654.3,593.9 L655.1,592.2 L655.9,590.5 L656.7,588.8 L657.5,587.1 L658.3,585.3 L659.0,583.6 L659.8,581.9 L660.6,580.2 L661.4,578.5 L662.2,576.8 L663.0,575.1 L663.7,573.4 L664.5,571.7 L665.3,570.0 L666.1,568.3 L666.9,566.6 L667.7,564.9 L668.4,563.2 L669.2,561.5 L670.0,559.8 L670.8,558.1 L671.6,556.5 L672.4,554.8 L673.1,553.1 L673.9,551.4 L674.7,549.8 L675.5,548.1 L676.3,546.5 L677.1,544.8 L677.8,543.1 L678.6,541.5 L679.4,539.9 L680.2,538.2 L681.0,536.6 L681.8,535.0 L682.5,533.3 L683.3,531.7 L684.1,530.1 L684.9,528.5 L685.7,526.9 L686.5,525.3 L687.2,523.7 L688.0,522.1 L688.8,520.6 L689.6,519.0 L690.4,517.4 L691.2,515.8 L691.9,514.3 L692.7,512.7 L693.5,511.2 L694.3,509.7 L695.1,508.1 L695.9,506.6 L696.6,505.1 L697.4,503.6 L698.2,502.1 L699.0,500.6 L699.8,499.1 L700.6,497.6 L701.3,496.2 L702.1,494.7 L702.9,493.2 L703.7,491.8 L704.5,490.4 L705.3,488.9 L706.1,487.5 L706.8,486.1 L707.6,484.7 L708.4,483.3 L709.2,481.9 L710.0,480.5 L710.8,479.1 L711.6,477.8 L712.3,476.4 L713.1,475.1 L713.9,473.7 L714.7,472.4 L715.5,471.1 L716.3,469.8 L717.1,468.5 L717.9,467.2 L718.7,465.9 L719.5,464.6 L720.3,463.3 L721.1,462.0 L721.9,460.8 L722.7,459.5 L723.5,458.3 L724.3,457.0 L725.1,455.8 L725.9,454.6 L726.7,453.4 L727.5,452.2 L728.3,451.0 L729.1,449.8 L729.9,448.6 L730.7,447.4 L731.6,446.2 L732.4,445.1 L733.2,443.9 L734.0,442.8 L734.8,441.7 L735.7,440.5 L736.5,439.4 L737.3,438.3 L738.2,437.2 L739.0,436.1 L739.8,435.0 L740.7,433.9 L741.5,432.8 L742.4,431.8 L743.2,430.7 L744.1,429.7 L744.9,428.6 L745.8,427.6 L746.7,426.6 L747.5,425.5 L748.4,424.5 L749.3,423.5 L750.1,422.5 L751.0,421.5 L751.9,420.5 L752.8,419.6 L753.7,418.6 L754.5,417.6 L755.4,416.7 L756.3,415.7 L757.2,414.8 L758.1,413.9 L759.0,412.9 L759.9,412.0 L760.9,411.1 L761.8,410.2 L762.7,409.3 L763.6,408.4 L764.6,407.5 L765.5,406.7 L766.4,405.8 L767.4,404.9 L768.3,404.1 L769.3,403.2 L770.2,402.4 L771.2,401.6 L772.1,400.8 L773.1,399.9 L774.1,399.1 L775.1,398.3 L776.0,397.5 L777.0,396.7 L778.0,396.0 L779.0,395.2 L780.0,394.4 L781.0,393.7 L782.0,392.9 L783.0,392.2 L784.0,391.4 L785.1,390.7 L786.1,390.0 L787.1,389.3 L788.2,388.5 L789.2,387.8 L790.3,387.1 L791.3,386.5 L792.4,385.8 L793.5,385.1 L794.5,384.4 L795.6,383.8 L796.7,383.1 L797.8,382.5 L798.9,381.8 L800.0,381.2 L801.1,380.6 L802.2,379.9 L803.3,379.3 L804.4,378.7 L805.6,378.1 L806.7,377.5 L807.8,376.9 L809.0,376.4 L810.1,375.8 L811.3,375.2 L812.5,374.7 L813.6,374.1 L814.8,373.6 L816.0,373.0 L817.2,372.5 L818.4,372.0 L819.6,371.5 L820.8,370.9 L822.1,370.4 L823.3,369.9 L824.5,369.4 L825.7,368.9 L827.0,368.5 L828.2,368.0 L829.5,367.5 L830.8,367.0 L832.0,366.6 L833.3,366.1 L834.6,365.7 L835.9,365.2 L837.1,364.8 L838.4,364.4 L839.7,363.9 L841.0,363.5 L842.4,363.1 L843.7,362.7 L845.0,362.3 L846.3,361.9 L847.7,361.5 L849.0,361.1 L850.3,360.7 L851.7,360.3 L853.0,359.9 L854.4,359.5 L855.7,359.2 L857.1,358.8 L858.5,358.4 L859.9,358.1 L861.2,357.7 L862.6,357.4 L864.0,357.0 L865.4,356.7 L866.8,356.3 L868.2,356.0 L869.6,355.7 L871.0,355.3 L872.4,355.0 L873.9,354.7 L875.3,354.4 L876.7,354.1 L878.1,353.8 L879.6,353.4 L881.0,353.1 L882.4,352.8 L883.9,352.5 L885.3,352.2 L886.8,351.9 L888.3,351.6 L889.7,351.4 L891.2,351.1 L892.6,350.8 L894.1,350.5 L895.6,350.2 L897.1,349.9 L898.5,349.7 L900.0,349.4 L901.5,349.1 L903.0,348.8 L904.5,348.6 L906.0,348.3 L907.5,348.0 L909.0,347.8 L910.5,347.5 L912.0,347.3 L913.5,347.0 L915.0,346.7 L916.5,346.5 L918.0,346.2 L919.6,346.0 L921.1,345.7 L922.6,345.5 L924.1,345.2 L925.7,345.0 L927.2,344.7 L928.7,344.5 L930.3,344.2 L931.8,344.0 L933.3,343.7 L934.9,343.5 L936.4,343.2 L938.0,343.0 L939.5,342.7 L941.0,342.5 L942.6,342.2 L944.1,342.0 L945.7,341.7 L947.2,341.5 L948.8,341.2 L950.4,341.0 L951.9,340.7 L953.5,340.5 L955.0,340.2 L956.6,340.0 L958.1,339.7 L959.7,339.5 L961.3,339.2 L962.8,339.0 L964.4,338.7 L966.0,338.5 L967.5,338.2 L969.1,337.9 L970.7,337.7 L972.2,337.4 L973.8,337.2 L975.4,336.9 L976.9,336.6 L978.5,336.4 L980.1,336.1 L981.7,335.8 L983.2,335.5 L984.8,335.3 L986.4,335.0 L987.9,334.7 L989.5,334.4 L991.1,334.1 L992.7,333.8 L994.2,333.6 L995.8,333.3 L997.4,333.0 L999.0,332.7 L1000.6,332.4 L1002.1,332.1 L1003.7,331.8 L1005.3,331.5 L1006.9,331.2 L1008.6,330.9 L1010.2,330.6 L1011.8,330.2 L1013.4,329.9 L1015.1,329.6 L1016.7,329.3 L1018.4,329.0 L1020.0,328.7 L1021.7,328.3 L1023.4,328.0 L1025.1,327.7 L1026.8,327.4 L1028.5,327.0 L1030.2,326.7 L1032.0,326.4 L1033.7,326.1 L1035.5,325.7 L1037.2,325.4 L1039.0,325.0 L1040.8,324.7 L1042.6,324.4 L1044.5,324.0 L1046.3,323.7 L1048.2,323.3 L1050.1,323.0 L1052.0,322.7 L1053.9,322.3 L1055.8,322.0 L1057.7,321.6 L1059.7,321.3 L1061.7,320.9 L1063.7,320.5 L1065.7,320.2 L1067.8,319.8 L1069.8,319.5 L1071.9,319.1 L1074.0,318.8 L1076.2,318.4 L1078.3,318.0 L1080.5,317.7 L1082.7,317.3 L1084.9,316.9 L1087.1,316.6 L1089.4,316.2 L1091.7,315.8 L1094.0,315.5 L1096.4,315.1 L1098.7,314.7 L1101.1,314.4 L1103.5,314.0 L1106.0,313.6 L1108.5,313.3 L1111.0,312.9 L1113.5,312.5 L1116.1,312.1 L1118.7,311.8 L1121.3,311.4 L1124.0,311.0 L1126.7,310.6 L1129.4,310.3 L1132.1,309.9 L1134.9,309.5 L1137.7,309.1 L1140.6,308.7 L1143.5,308.4 L1146.4,308.0 L1149.3,307.6 L1152.3,307.2 L1155.3,306.8 L1158.4,306.5 L1161.5,306.1 L1164.6,305.7 L1167.8,305.3 L1171.0,304.9 L1174.2,304.5 L1177.5,304.2 L1180.8,303.8 L1184.2,303.4 L1187.6,303.0 L1191.0,302.6 L1194.5,302.2 L1198.0,301.9 L1201.6,301.5 L1205.2,301.1 L1208.8,300.7 L1212.5,300.3 L1216.2,299.9 L1220.0,299.6 L1223.8,299.2 L1227.7,298.8 L1231.6,298.4 L1235.6,298.0 L1239.6,297.6 L1243.6,297.3 L1247.7,296.9 L1251.8,296.5 L1256.0,296.1 L1260.3,295.7 L1264.5,295.3 L1268.9,295.0 L1273.3,294.6 L1277.7,294.2 L1282.2,293.8 L1286.7,293.5 L1291.3,293.1 L1295.9,292.7 L1300.6,292.3 L1305.3,291.9 L1310.1,291.6 L1315.0,291.2 L1319.9,290.8 L1324.8,290.4 L1329.8,290.1 L1334.8,289.7 L1339.9,289.3 L1345.0,288.9 L1350.2,288.6 L1355.4,288.2 L1360.6,287.8 L1365.9,287.5 L1371.3,287.1 L1376.6,286.7 L1382.0,286.4 L1387.5,286.0 L1392.9,285.6 L1398.5,285.3 L1404.0,284.9 L1409.6,284.5 L1415.2,284.2 L1420.8,283.8 L1426.5,283.5 L1432.2,283.1 L1437.9,282.8 L1443.7,282.4 L1449.5,282.0 L1455.3,281.7 L1461.1,281.3 L1467.0,281.0 L1472.8,280.6 L1478.7,280.3 L1484.6,279.9 L1490.6,279.6 L1496.5,279.2 L1502.5,278.9 L1508.5,278.6 L1514.5,278.2 L1520.5,277.9 L1526.5,277.5 L1532.6,277.2 L1538.6,276.9 L1544.7,276.5 L1550.7,276.2 L1556.8,275.9 L1562.9,275.5 L1569.0,275.2 L1575.1,274.9 L1581.2,274.6 L1587.3,274.2 L1593.4,273.9 L1599.5,273.6 L1605.6,273.3 L1611.7,272.9 L1617.8,272.6 L1623.9,272.3 L1630.0,272.0 L1636.1,271.7 L1642.2,271.4 L1648.3,271.1 L1654.4,270.8 L1660.4,270.5 L1666.5,270.2 L1672.5,269.8 L1678.6,269.6 L1684.6,269.3 L1690.6,269.0 L1696.6,268.7 L1702.6,268.4 L1708.5,268.1 L1714.5,267.8 L1720.4,267.5 L1726.3,267.2 L1732.2,266.9 L1738.1,266.7 L1743.9,266.4 L1749.8,266.1 L1755.5,265.8 L1761.3,265.6 L1767.1,265.3 L1772.8,265.0 L1778.5,264.8 L1784.1,264.5 L1789.8,264.2 L1795.4,264.0 L1800.9,263.7 L1806.5,263.5 L1812.0,263.2 L1817.4,262.9 L1822.9,262.7 L1828.3,262.5 L1833.6,262.2 L1838.9,262.0 L1844.2,261.7 L1849.4,261.5 L1854.6,261.3 L1859.8,261.0 L1864.9,260.8 L1869.9,260.6 L1875.0,260.3 L1879.9,260.1 L1884.9,259.9 L1889.7,259.7 L1894.5,259.5 L1899.3,259.3 L1904.0,259.1 L1908.7,258.8 L1913.3,258.6 L1917.9,258.4 L1922.4,258.2 L1926.8,258.1 L1931.2,257.9 L1935.5,257.7 L1939.8,257.5 L1944.0,257.3 L1948.2,257.1 L1952.3,256.9 L1956.3,256.8 L1960.2,256.6 L1964.1,256.4 L1968.0,256.2 L1971.7,256.1 L1975.4,255.9 L1979.1,255.8 L1982.6,255.6 L1986.2,255.4 L1989.6,255.3 L1993.0,255.1 L1996.3,255.0 L1999.6,254.9 L2002.8,254.7 L2006.0,254.6 L2009.1,254.4 L2012.1,254.3 L2015.1,254.2 L2018.0,254.1 L2020.9,253.9 L2023.7,253.8 L2026.4,253.7 L2029.1,253.6 L2031.8,253.4 L2034.4,253.3 L2036.9,253.2 L2039.4,253.1 L2041.8,253.0 L2044.2,252.9 L2046.5,252.8 L2048.8,252.7 L2051.0,252.6 L2053.2,252.5 L2055.4,252.4 L2057.5,252.3 L2059.5,252.2 L2061.5,252.1 L2063.4,252.1 L2065.3,252.0 L2067.2,251.9 L2069.0,251.8 L2070.8,251.7 L2072.5,251.7 L2074.2,251.6 L2075.8,251.5 L2077.4,251.4 L2079.0,251.4 L2080.5,251.3 L2081.9,251.2 L2083.4,251.2 L2084.8,251.1 L2086.1,251.1 L2087.4,251.0 L2088.7,251.0 L2090.0,250.9 L2091.2,250.8 L2092.3,250.8 L2093.5,250.7 L2094.6,250.7 L2095.6,250.6 L2096.7,250.6 L2097.7,250.6 L2098.6,250.5 L2099.6,250.5 L2100.5,250.4 L2101.3,250.4 L2102.2,250.4 L2103.0,250.3 L2103.8,250.3 L2104.5,250.3 L2105.2,250.2 L2105.9,250.2 L2106.6,250.2 L2107.2,250.1 L2107.9,250.1 L2108.5,250.1 L2109.0,250.1 L2109.6,250.0 L2110.1,250.0 L2110.6,250.0 L2111.0,250.0 L2111.5,250.0 L2111.9,249.9 L2112.3,249.9 L2112.7,249.9 L2113.1,249.9 L2113.4,249.9 L2113.7,249.9 L2114.0,249.8 L2114.3,249.8 L2114.6,249.8 L2114.8,249.8 L2115.1,249.8 L2115.3,249.8 L2115.5,249.8 L2115.7,249.8 L2115.9,249.8 L2116.0,249.8 L2116.2,249.7 L2116.3,249.7 L2116.5,249.7 L2116.6,249.7 L2116.7,249.7 L2116.8,249.7 L2116.9,249.7 L2116.9,249.7 L2117.0,249.7 L2117.1,249.7 L2117.1,249.7 L2117.1,249.7 L2117.2,249.7 L2117.2,249.7 L2117.2,249.7 L2117.3,249.7 L2117.3,249.7 L2117.3,249.7 L2117.3,249.7 L2117.3,249.7 L2117.3,249.7 L2117.3,249.7 L2117.3,249.7 L2117.3,249.7" stroke="#FF0000" stroke-width="3.5" fill="none" stroke-linejoin="round"/>
<circle cx="233.00" cy="1445.00" r="18.3" fill="#FF0000"/>
<circle cx="421.00" cy="1021.60" r="18.3" fill="#FF0000"/>
<circle cx="515.30" cy="845.90" r="18.3" fill="#FF0000"/>
<circle cx="609.80" cy="704.30" r="18.3" fill="#FF0000"/>
<circle cx="703.60" cy="472.10" r="18.3" fill="#FF0000"/>
<circle cx="798.00" cy="358.10" r="18.3" fill="#FF0000"/>
<circle cx="986.30" cy="340.20" r="18.3" fill="#FF0000"/>
<circle cx="1175.00" cy="291.00" r="18.3" fill="#FF0000"/>
<circle cx="2117.30" cy="249.70" r="18.3" fill="#FF0000"/>
<path d="M233.0,1445.5 L233.0,1445.5 L233.0,1445.5 L233.0,1445.5 L233.0,1445.5 L233.0,1445.5 L233.0,1445.5 L233.0,1445.5 L233.0,1445.5 L233.0,1445.5 L233.0,1445.5 L233.0,1445.5 L233.0,1445.4 L233.0,1445.4 L233.0,1445.4 L233.1,1445.4 L233.1,1445.4 L233.1,1445.3 L233.1,1445.3 L233.1,1445.3 L233.1,1445.2 L233.2,1445.2 L233.2,1445.1 L233.2,1445.1 L233.3,1445.0 L233.3,1445.0 L233.3,1444.9 L233.4,1444.8 L233.4,1444.8 L233.4,1444.7 L233.5,1444.6 L233.5,1444.5 L233.6,1444.4 L233.7,1444.3 L233.7,1444.2 L233.8,1444.1 L233.8,1443.9 L233.9,1443.8 L234.0,1443.6 L234.1,1443.5 L234.2,1443.3 L234.2,1443.2 L234.3,1443.0 L234.4,1442.8 L234.5,1442.6 L234.7,1442.4 L234.8,1442.2 L234.9,1442.0 L235.0,1441.8 L235.1,1441.5 L235.3,1441.3 L235.4,1441.0 L235.5,1440.7 L235.7,1440.5 L235.9,1440.2 L236.0,1439.9 L236.2,1439.6 L236.4,1439.2 L236.5,1438.9 L236.7,1438.6 L236.9,1438.2 L237.1,1437.8 L237.3,1437.4 L237.5,1437.0 L237.8,1436.6 L238.0,1436.2 L238.2,1435.8 L238.5,1435.3 L238.7,1434.9 L239.0,1434.4 L239.2,1433.9 L239.5,1433.4 L239.8,1432.9 L240.1,1432.3 L240.3,1431.8 L240.6,1431.2 L241.0,1430.7 L241.3,1430.1 L241.6,1429.5 L241.9,1428.8 L242.3,1428.2 L242.6,1427.5 L243.0,1426.9 L243.4,1426.2 L243.7,1425.5 L244.1,1424.7 L244.5,1424.0 L244.9,1423.2 L245.4,1422.5 L245.8,1421.7 L246.2,1420.9 L246.7,1420.0 L247.1,1419.2 L247.6,1418.3 L248.1,1417.4 L248.5,1416.5 L249.0,1415.6 L249.5,1414.6 L250.1,1413.7 L250.6,1412.7 L251.1,1411.7 L251.7,1410.7 L252.2,1409.6 L252.8,1408.6 L253.4,1407.5 L254.0,1406.4 L254.6,1405.2 L255.2,1404.1 L255.8,1402.9 L256.5,1401.7 L257.1,1400.5 L257.8,1399.3 L258.5,1398.0 L259.2,1396.7 L259.9,1395.4 L260.6,1394.1 L261.3,1392.7 L262.0,1391.4 L262.8,1390.0 L263.6,1388.5 L264.3,1387.1 L265.1,1385.6 L265.9,1384.1 L266.7,1382.6 L267.6,1381.0 L268.4,1379.5 L269.3,1377.9 L270.1,1376.3 L271.0,1374.6 L271.9,1373.0 L272.8,1371.3 L273.7,1369.6 L274.6,1367.9 L275.6,1366.1 L276.5,1364.4 L277.5,1362.6 L278.4,1360.8 L279.4,1359.0 L280.4,1357.1 L281.4,1355.3 L282.4,1353.4 L283.4,1351.5 L284.4,1349.6 L285.5,1347.6 L286.5,1345.7 L287.6,1343.7 L288.6,1341.7 L289.7,1339.7 L290.8,1337.7 L291.9,1335.7 L293.0,1333.6 L294.1,1331.5 L295.2,1329.5 L296.3,1327.4 L297.4,1325.2 L298.6,1323.1 L299.7,1321.0 L300.9,1318.8 L302.0,1316.6 L303.2,1314.4 L304.4,1312.2 L305.6,1310.0 L306.7,1307.8 L307.9,1305.6 L309.1,1303.3 L310.3,1301.1 L311.5,1298.8 L312.7,1296.5 L314.0,1294.2 L315.2,1291.9 L316.4,1289.6 L317.7,1287.3 L318.9,1284.9 L320.1,1282.6 L321.4,1280.2 L322.6,1277.9 L323.9,1275.5 L325.2,1273.1 L326.4,1270.7 L327.7,1268.4 L329.0,1266.0 L330.2,1263.5 L331.5,1261.1 L332.8,1258.7 L334.1,1256.3 L335.4,1253.8 L336.7,1251.4 L337.9,1249.0 L339.2,1246.5 L340.5,1244.0 L341.8,1241.6 L343.1,1239.1 L344.4,1236.7 L345.7,1234.2 L347.0,1231.7 L348.3,1229.2 L349.6,1226.7 L350.9,1224.3 L352.3,1221.8 L353.6,1219.3 L354.9,1216.8 L356.2,1214.3 L357.5,1211.8 L358.8,1209.3 L360.1,1206.8 L361.4,1204.3 L362.7,1201.8 L364.0,1199.3 L365.3,1196.8 L366.6,1194.3 L367.9,1191.9 L369.2,1189.4 L370.5,1186.9 L371.8,1184.4 L373.1,1181.9 L374.4,1179.4 L375.7,1176.9 L376.9,1174.5 L378.2,1172.0 L379.5,1169.5 L380.8,1167.1 L382.0,1164.6 L383.3,1162.1 L384.6,1159.7 L385.8,1157.2 L387.1,1154.8 L388.4,1152.4 L389.6,1149.9 L390.8,1147.5 L392.1,1145.1 L393.3,1142.7 L394.6,1140.3 L395.8,1137.9 L397.0,1135.5 L398.2,1133.1 L399.4,1130.8 L400.6,1128.4 L401.8,1126.0 L403.0,1123.7 L404.2,1121.4 L405.4,1119.0 L406.6,1116.7 L407.7,1114.4 L408.9,1112.1 L410.0,1109.8 L411.2,1107.6 L412.3,1105.3 L413.5,1103.0 L414.6,1100.8 L415.7,1098.6 L416.8,1096.3 L417.9,1094.1 L419.0,1091.9 L420.1,1089.7 L421.2,1087.5 L422.3,1085.3 L423.4,1083.2 L424.5,1081.0 L425.6,1078.9 L426.6,1076.7 L427.7,1074.6 L428.7,1072.5 L429.8,1070.4 L430.8,1068.2 L431.9,1066.2 L432.9,1064.1 L433.9,1062.0 L434.9,1059.9 L436.0,1057.9 L437.0,1055.8 L438.0,1053.8 L439.0,1051.7 L440.0,1049.7 L441.0,1047.7 L442.0,1045.7 L443.0,1043.7 L443.9,1041.7 L444.9,1039.7 L445.9,1037.8 L446.8,1035.8 L447.8,1033.8 L448.8,1031.9 L449.7,1030.0 L450.7,1028.0 L451.6,1026.1 L452.6,1024.2 L453.5,1022.3 L454.4,1020.4 L455.3,1018.5 L456.3,1016.6 L457.2,1014.8 L458.1,1012.9 L459.0,1011.1 L459.9,1009.2 L460.8,1007.4 L461.7,1005.5 L462.6,1003.7 L463.5,1001.9 L464.4,1000.1 L465.3,998.3 L466.2,996.5 L467.1,994.7 L468.0,993.0 L468.8,991.2 L469.7,989.4 L470.6,987.7 L471.4,985.9 L472.3,984.2 L473.2,982.5 L474.0,980.8 L474.9,979.0 L475.7,977.3 L476.6,975.6 L477.4,973.9 L478.3,972.3 L479.1,970.6 L480.0,968.9 L480.8,967.3 L481.6,965.6 L482.5,963.9 L483.3,962.3 L484.1,960.7 L485.0,959.0 L485.8,957.4 L486.6,955.8 L487.4,954.2 L488.2,952.6 L489.1,951.0 L489.9,949.4 L490.7,947.8 L491.5,946.3 L492.3,944.7 L493.1,943.2 L493.9,941.6 L494.7,940.1 L495.5,938.5 L496.3,937.0 L497.1,935.5 L497.9,933.9 L498.7,932.4 L499.5,930.9 L500.3,929.4 L501.1,927.9 L501.9,926.4 L502.7,924.9 L503.5,923.5 L504.3,922.0 L505.1,920.5 L505.9,919.1 L506.7,917.6 L507.5,916.2 L508.2,914.7 L509.0,913.3 L509.8,911.9 L510.6,910.4 L511.4,909.0 L512.2,907.6 L513.0,906.2 L513.8,904.8 L514.5,903.4 L515.3,902.0 L516.1,900.7 L516.9,899.3 L517.7,897.9 L518.5,896.5 L519.3,895.2 L520.1,893.8 L520.8,892.5 L521.6,891.1 L522.4,889.8 L523.2,888.4 L524.0,887.1 L524.8,885.8 L525.6,884.4 L526.3,883.1 L527.1,881.8 L527.9,880.5 L528.7,879.2 L529.5,877.9 L530.3,876.6 L531.1,875.3 L531.9,874.0 L532.6,872.7 L533.4,871.4 L534.2,870.1 L535.0,868.9 L535.8,867.6 L536.6,866.3 L537.4,865.0 L538.2,863.8 L538.9,862.5 L539.7,861.2 L540.5,860.0 L541.3,858.7 L542.1,857.5 L542.9,856.2 L543.7,855.0 L544.4,853.7 L545.2,852.5 L546.0,851.2 L546.8,850.0 L547.6,848.7 L548.4,847.5 L549.2,846.2 L550.0,845.0 L550.7,843.8 L551.5,842.5 L552.3,841.3 L553.1,840.1 L553.9,838.8 L554.7,837.6 L555.5,836.3 L556.2,835.1 L557.0,833.9 L557.8,832.6 L558.6,831.4 L559.4,830.2 L560.2,828.9 L561.0,827.7 L561.8,826.5 L562.5,825.2 L563.3,824.0 L564.1,822.8 L564.9,821.5 L565.7,820.3 L566.5,819.1 L567.3,817.8 L568.0,816.6 L568.8,815.3 L569.6,814.1 L570.4,812.9 L571.2,811.6 L572.0,810.4 L572.8,809.1 L573.5,807.9 L574.3,806.6 L575.1,805.4 L575.9,804.1 L576.7,802.9 L577.5,801.6 L578.3,800.3 L579.1,799.1 L579.8,797.8 L580.6,796.5 L581.4,795.2 L582.2,794.0 L583.0,792.7 L583.8,791.4 L584.6,790.1 L585.3,788.8 L586.1,787.5 L586.9,786.2 L587.7,784.9 L588.5,783.6 L589.3,782.3 L590.1,781.0 L590.8,779.7 L591.6,778.4 L592.4,777.1 L593.2,775.7 L594.0,774.4 L594.8,773.1 L595.6,771.7 L596.3,770.4 L597.1,769.0 L597.9,767.7 L598.7,766.3 L599.5,764.9 L600.3,763.6 L601.1,762.2 L601.8,760.8 L602.6,759.4 L603.4,758.0 L604.2,756.6 L605.0,755.2 L605.8,753.8 L606.5,752.4 L607.3,751.0 L608.1,749.5 L608.9,748.1 L609.7,746.6 L610.5,745.2 L611.3,743.7 L612.0,742.3 L612.8,740.8 L613.6,739.3 L614.4,737.9 L615.2,736.4 L616.0,734.9 L616.7,733.4 L617.5,731.9 L618.3,730.4 L619.1,728.9 L619.9,727.3 L620.7,725.8 L621.4,724.3 L622.2,722.8 L623.0,721.2 L623.8,719.7 L624.6,718.1 L625.4,716.6 L626.2,715.0 L626.9,713.5 L627.7,711.9 L628.5,710.3 L629.3,708.8 L630.1,707.2 L630.9,705.6 L631.6,704.1 L632.4,702.5 L633.2,700.9 L634.0,699.3 L634.8,697.7 L635.6,696.1 L636.3,694.5 L637.1,692.9 L637.9,691.3 L638.7,689.7 L639.5,688.1 L640.3,686.5 L641.0,684.9 L641.8,683.3 L642.6,681.7 L643.4,680.1 L644.2,678.5 L645.0,676.9 L645.7,675.3 L646.5,673.6 L647.3,672.0 L648.1,670.4 L648.9,668.8 L649.7,667.2 L650.4,665.6 L651.2,664.0 L652.0,662.3 L652.8,660.7 L653.6,659.1 L654.3,657.5 L655.1,655.9 L655.9,654.3 L656.7,652.7 L657.5,651.1 L658.3,649.4 L659.0,647.8 L659.8,646.2 L660.6,644.6 L661.4,643.0 L662.2,641.4 L663.0,639.8 L663.7,638.2 L664.5,636.6 L665.3,635.1 L666.1,633.5 L666.9,631.9 L667.7,630.3 L668.4,628.7 L669.2,627.1 L670.0,625.6 L670.8,624.0 L671.6,622.4 L672.4,620.9 L673.1,619.3 L673.9,617.7 L674.7,616.2 L675.5,614.6 L676.3,613.1 L677.1,611.6 L677.8,610.0 L678.6,608.5 L679.4,607.0 L680.2,605.4 L681.0,603.9 L681.8,602.4 L682.5,600.9 L683.3,599.4 L684.1,597.9 L684.9,596.4 L685.7,594.9 L686.5,593.5 L687.2,592.0 L688.0,590.5 L688.8,589.1 L689.6,587.6 L690.4,586.2 L691.2,584.7 L691.9,583.3 L692.7,581.9 L693.5,580.4 L694.3,579.0 L695.1,577.6 L695.9,576.2 L696.6,574.8 L697.4,573.4 L698.2,572.1 L699.0,570.7 L699.8,569.3 L700.6,568.0 L701.3,566.6 L702.1,565.3 L702.9,564.0 L703.7,562.7 L704.5,561.4 L705.3,560.1 L706.1,558.8 L706.8,557.5 L707.6,556.2 L708.4,554.9 L709.2,553.7 L710.0,552.4 L710.8,551.2 L711.6,550.0 L712.3,548.7 L713.1,547.5 L713.9,546.3 L714.7,545.1 L715.5,543.9 L716.3,542.7 L717.1,541.6 L717.9,540.4 L718.7,539.2 L719.5,538.1 L720.3,536.9 L721.1,535.8 L721.9,534.6 L722.7,533.5 L723.5,532.4 L724.3,531.3 L725.1,530.2 L725.9,529.1 L726.7,528.0 L727.5,526.9 L728.3,525.8 L729.1,524.7 L729.9,523.7 L730.7,522.6 L731.6,521.6 L732.4,520.5 L733.2,519.5 L734.0,518.5 L734.8,517.4 L735.7,516.4 L736.5,515.4 L737.3,514.4 L738.2,513.4 L739.0,512.4 L739.8,511.4 L740.7,510.4 L741.5,509.4 L742.4,508.4 L743.2,507.5 L744.1,506.5 L744.9,505.5 L745.8,504.6 L746.7,503.6 L747.5,502.7 L748.4,501.8 L749.3,500.8 L750.1,499.9 L751.0,499.0 L751.9,498.0 L752.8,497.1 L753.7,496.2 L754.5,495.3 L755.4,494.4 L756.3,493.5 L757.2,492.6 L758.1,491.7 L759.0,490.8 L759.9,490.0 L760.9,489.1 L761.8,488.2 L762.7,487.3 L763.6,486.5 L764.6,485.6 L765.5,484.8 L766.4,483.9 L767.4,483.1 L768.3,482.2 L769.3,481.4 L770.2,480.5 L771.2,479.7 L772.1,478.8 L773.1,478.0 L774.1,477.2 L775.1,476.4 L776.0,475.5 L777.0,474.7 L778.0,473.9 L779.0,473.1 L780.0,472.3 L781.0,471.5 L782.0,470.7 L783.0,469.8 L784.0,469.0 L785.1,468.2 L786.1,467.4 L787.1,466.6 L788.2,465.9 L789.2,465.1 L790.3,464.3 L791.3,463.5 L792.4,462.7 L793.5,461.9 L794.5,461.1 L795.6,460.3 L796.7,459.6 L797.8,458.8 L798.9,458.0 L800.0,457.2 L801.1,456.5 L802.2,455.7 L803.3,454.9 L804.4,454.1 L805.6,453.4 L806.7,452.6 L807.8,451.8 L809.0,451.1 L810.1,450.3 L811.3,449.5 L812.5,448.8 L813.6,448.0 L814.8,447.2 L816.0,446.4 L817.2,445.7 L818.4,444.9 L819.6,444.2 L820.8,443.4 L822.1,442.6 L823.3,441.9 L824.5,441.1 L825.7,440.3 L827.0,439.6 L828.2,438.8 L829.5,438.0 L830.8,437.3 L832.0,436.5 L833.3,435.8 L834.6,435.0 L835.9,434.2 L837.1,433.5 L838.4,432.7 L839.7,432.0 L841.0,431.2 L842.4,430.5 L843.7,429.7 L845.0,429.0 L846.3,428.2 L847.7,427.5 L849.0,426.7 L850.3,426.0 L851.7,425.2 L853.0,424.5 L854.4,423.7 L855.7,423.0 L857.1,422.2 L858.5,421.5 L859.9,420.7 L861.2,420.0 L862.6,419.2 L864.0,418.5 L865.4,417.8 L866.8,417.0 L868.2,416.3 L869.6,415.6 L871.0,414.8 L872.4,414.1 L873.9,413.4 L875.3,412.6 L876.7,411.9 L878.1,411.2 L879.6,410.4 L881.0,409.7 L882.4,409.0 L883.9,408.3 L885.3,407.5 L886.8,406.8 L888.3,406.1 L889.7,405.4 L891.2,404.7 L892.6,403.9 L894.1,403.2 L895.6,402.5 L897.1,401.8 L898.5,401.1 L900.0,400.4 L901.5,399.7 L903.0,399.0 L904.5,398.3 L906.0,397.6 L907.5,396.9 L909.0,396.2 L910.5,395.5 L912.0,394.8 L913.5,394.1 L915.0,393.4 L916.5,392.7 L918.0,392.0 L919.6,391.3 L921.1,390.7 L922.6,390.0 L924.1,389.3 L925.7,388.6 L927.2,387.9 L928.7,387.3 L930.3,386.6 L931.8,385.9 L933.3,385.2 L934.9,384.6 L936.4,383.9 L938.0,383.2 L939.5,382.6 L941.0,381.9 L942.6,381.3 L944.1,380.6 L945.7,380.0 L947.2,379.3 L948.8,378.7 L950.4,378.0 L951.9,377.4 L953.5,376.7 L955.0,376.1 L956.6,375.5 L958.1,374.8 L959.7,374.2 L961.3,373.6 L962.8,372.9 L964.4,372.3 L966.0,371.7 L967.5,371.1 L969.1,370.4 L970.7,369.8 L972.2,369.2 L973.8,368.6 L975.4,368.0 L976.9,367.4 L978.5,366.8 L980.1,366.2 L981.7,365.6 L983.2,365.0 L984.8,364.4 L986.4,363.8 L987.9,363.2 L989.5,362.6 L991.1,362.0 L992.7,361.4 L994.2,360.9 L995.8,360.3 L997.4,359.7 L999.0,359.1 L1000.6,358.6 L1002.1,358.0 L1003.7,357.4 L1005.3,356.9 L1006.9,356.3 L1008.6,355.8 L1010.2,355.2 L1011.8,354.7 L1013.4,354.1 L1015.1,353.6 L1016.7,353.0 L1018.4,352.5 L1020.0,351.9 L1021.7,351.4 L1023.4,350.9 L1025.1,350.3 L1026.8,349.8 L1028.5,349.3 L1030.2,348.7 L1032.0,348.2 L1033.7,347.7 L1035.5,347.2 L1037.2,346.7 L1039.0,346.1 L1040.8,345.6 L1042.6,345.1 L1044.5,344.6 L1046.3,344.1 L1048.2,343.6 L1050.1,343.1 L1052.0,342.6 L1053.9,342.1 L1055.8,341.6 L1057.7,341.1 L1059.7,340.6 L1061.7,340.1 L1063.7,339.6 L1065.7,339.1 L1067.8,338.6 L1069.8,338.1 L1071.9,337.6 L1074.0,337.2 L1076.2,336.7 L1078.3,336.2 L1080.5,335.7 L1082.7,335.3 L1084.9,334.8 L1087.1,334.3 L1089.4,333.8 L1091.7,333.4 L1094.0,332.9 L1096.4,332.4 L1098.7,332.0 L1101.1,331.5 L1103.5,331.0 L1106.0,330.6 L1108.5,330.1 L1111.0,329.7 L1113.5,329.2 L1116.1,328.8 L1118.7,328.3 L1121.3,327.9 L1124.0,327.4 L1126.7,327.0 L1129.4,326.5 L1132.1,326.1 L1134.9,325.6 L1137.7,325.2 L1140.6,324.7 L1143.5,324.3 L1146.4,323.9 L1149.3,323.4 L1152.3,323.0 L1155.3,322.5 L1158.4,322.1 L1161.5,321.7 L1164.6,321.2 L1167.8,320.8 L1171.0,320.4 L1174.2,319.9 L1177.5,319.5 L1180.8,319.1 L1184.2,318.7 L1187.6,318.2 L1191.0,317.8 L1194.5,317.4 L1198.0,317.0 L1201.6,316.5 L1205.2,316.1 L1208.8,315.7 L1212.5,315.3 L1216.2,314.9 L1220.0,314.5 L1223.8,314.0 L1227.7,313.6 L1231.6,313.2 L1235.6,312.8 L1239.6,312.4 L1243.6,312.0 L1247.7,311.6 L1251.8,311.1 L1256.0,310.7 L1260.3,310.3 L1264.5,309.9 L1268.9,309.5 L1273.3,309.1 L1277.7,308.7 L1282.2,308.3 L1286.7,307.9 L1291.3,307.5 L1295.9,307.1 L1300.6,306.7 L1305.3,306.3 L1310.1,305.9 L1315.0,305.5 L1319.9,305.1 L1324.8,304.7 L1329.8,304.3 L1334.8,303.9 L1339.9,303.5 L1345.0,303.1 L1350.2,302.7 L1355.4,302.3 L1360.6,301.9 L1365.9,301.5 L1371.3,301.1 L1376.6,300.7 L1382.0,300.3 L1387.5,299.9 L1392.9,299.5 L1398.5,299.1 L1404.0,298.7 L1409.6,298.3 L1415.2,297.9 L1420.8,297.5 L1426.5,297.2 L1432.2,296.8 L1437.9,296.4 L1443.7,296.0 L1449.5,295.6 L1455.3,295.2 L1461.1,294.9 L1467.0,294.5 L1472.8,294.1 L1478.7,293.7 L1484.6,293.4 L1490.6,293.0 L1496.5,292.6 L1502.5,292.2 L1508.5,291.9 L1514.5,291.5 L1520.5,291.1 L1526.5,290.8 L1532.6,290.4 L1538.6,290.0 L1544.7,289.7 L1550.7,289.3 L1556.8,288.9 L1562.9,288.6 L1569.0,288.2 L1575.1,287.9 L1581.2,287.5 L1587.3,287.2 L1593.4,286.8 L1599.5,286.5 L1605.6,286.1 L1611.7,285.8 L1617.8,285.4 L1623.9,285.1 L1630.0,284.8 L1636.1,284.4 L1642.2,284.1 L1648.3,283.7 L1654.4,283.4 L1660.4,283.1 L1666.5,282.8 L1672.5,282.4 L1678.6,282.1 L1684.6,281.8 L1690.6,281.5 L1696.6,281.1 L1702.6,280.8 L1708.5,280.5 L1714.5,280.2 L1720.4,279.9 L1726.3,279.6 L1732.2,279.3 L1738.1,279.0 L1743.9,278.7 L1749.8,278.4 L1755.5,278.1 L1761.3,277.8 L1767.1,277.5 L1772.8,277.2 L1778.5,276.9 L1784.1,276.6 L1789.8,276.3 L1795.4,276.0 L1800.9,275.8 L1806.5,275.5 L1812.0,275.2 L1817.4,274.9 L1822.9,274.7 L1828.3,274.4 L1833.6,274.1 L1838.9,273.9 L1844.2,273.6 L1849.4,273.3 L1854.6,273.1 L1859.8,272.8 L1864.9,272.6 L1869.9,272.3 L1875.0,272.1 L1879.9,271.9 L1884.9,271.6 L1889.7,271.4 L1894.5,271.2 L1899.3,270.9 L1904.0,270.7 L1908.7,270.5 L1913.3,270.2 L1917.9,270.0 L1922.4,269.8 L1926.8,269.6 L1931.2,269.4 L1935.5,269.2 L1939.8,269.0 L1944.0,268.8 L1948.2,268.6 L1952.3,268.4 L1956.3,268.2 L1960.2,268.0 L1964.1,267.8 L1968.0,267.6 L1971.7,267.5 L1975.4,267.3 L1979.1,267.1 L1982.6,266.9 L1986.2,266.8 L1989.6,266.6 L1993.0,266.4 L1996.3,266.3 L1999.6,266.1 L2002.8,266.0 L2006.0,265.8 L2009.1,265.7 L2012.1,265.5 L2015.1,265.4 L2018.0,265.2 L2020.9,265.1 L2023.7,265.0 L2026.4,264.8 L2029.1,264.7 L2031.8,264.6 L2034.4,264.5 L2036.9,264.3 L2039.4,264.2 L2041.8,264.1 L2044.2,264.0 L2046.5,263.9 L2048.8,263.8 L2051.0,263.7 L2053.2,263.6 L2055.4,263.5 L2057.5,263.4 L2059.5,263.3 L2061.5,263.2 L2063.4,263.1 L2065.3,263.0 L2067.2,262.9 L2069.0,262.8 L2070.8,262.7 L2072.5,262.6 L2074.2,262.6 L2075.8,262.5 L2077.4,262.4 L2079.0,262.3 L2080.5,262.3 L2081.9,262.2 L2083.4,262.1 L2084.8,262.1 L2086.1,262.0 L2087.4,261.9 L2088.7,261.9 L2090.0,261.8 L2091.2,261.7 L2092.3,261.7 L2093.5,261.6 L2094.6,261.6 L2095.6,261.5 L2096.7,261.5 L2097.7,261.4 L2098.6,261.4 L2099.6,261.3 L2100.5,261.3 L2101.3,261.3 L2102.2,261.2 L2103.0,261.2 L2103.8,261.1 L2104.5,261.1 L2105.2,261.1 L2105.9,261.0 L2106.6,261.0 L2107.2,261.0 L2107.9,261.0 L2108.5,260.9 L2109.0,260.9 L2109.6,260.9 L2110.1,260.8 L2110.6,260.8 L2111.0,260.8 L2111.5,260.8 L2111.9,260.8 L2112.3,260.7 L2112.7,260.7 L2113.1,260.7 L2113.4,260.7 L2113.7,260.7 L2114.0,260.7 L2114.3,260.6 L2114.6,260.6 L2114.8,260.6 L2115.1,260.6 L2115.3,260.6 L2115.5,260.6 L2115.7,260.6 L2115.9,260.6 L2116.0,260.6 L2116.2,260.6 L2116.3,260.5 L2116.5,260.5 L2116.6,260.5 L2116.7,260.5 L2116.8,260.5 L2116.9,260.5 L2116.9,260.5 L2117.0,260.5 L2117.1,260.5 L2117.1,260.5 L2117.1,260.5 L2117.2,260.5 L2117.2,260.5 L2117.2,260.5 L2117.3,260.5 L2117.3,260.5 L2117.3,260.5 L2117.3,260.5 L2117.3,260.5 L2117.3,260.5 L2117.3,260.5 L2117.3,260.5 L2117.3,260.5" stroke="#0000FF" stroke-width="3.5" fill="none" stroke-linejoin="round"/>
<polygon points="233.00,1420.80 254.39,1457.85 211.61,1457.85" fill="#0000FF"/>
<polygon points="421.00,1070.30 442.39,1107.35 399.61,1107.35" fill="#0000FF"/>
<polygon points="515.30,864.00 536.69,901.05 493.91,901.05" fill="#0000FF"/>
<polygon points="609.80,737.70 631.19,774.75 588.41,774.75" fill="#0000FF"/>
<polygon points="703.60,516.90 724.99,553.95 682.21,553.95" fill="#0000FF"/>
<polygon points="798.00,422.50 819.39,459.55 776.61,459.55" fill="#0000FF"/>
<polygon points="986.30,332.80 1007.69,369.85 964.91,369.85" fill="#0000FF"/>
<polygon points="1175.00,280.80 1196.39,317.85 1153.61,317.85" fill="#0000FF"/>
<polygon points="2117.30,235.80 2138.69,272.85 2095.91,272.85" fill="#0000FF"/>
<path d="M233.0,1444.4 L233.0,1444.4 L233.0,1444.4 L233.0,1444.4 L233.0,1444.4 L233.0,1444.4 L233.0,1444.4 L233.0,1444.4 L233.0,1444.4 L233.0,1444.4 L233.0,1444.4 L233.0,1444.3 L233.0,1444.3 L233.0,1444.3 L233.0,1444.3 L233.1,1444.2 L233.1,1444.2 L233.1,1444.2 L233.1,1444.1 L233.1,1444.1 L233.1,1444.0 L233.2,1444.0 L233.2,1443.9 L233.2,1443.9 L233.3,1443.8 L233.3,1443.7 L233.3,1443.6 L233.4,1443.5 L233.4,1443.4 L233.4,1443.3 L233.5,1443.2 L233.5,1443.1 L233.6,1442.9 L233.7,1442.8 L233.7,1442.7 L233.8,1442.5 L233.8,1442.3 L233.9,1442.1 L234.0,1442.0 L234.1,1441.8 L234.2,1441.6 L234.2,1441.3 L234.3,1441.1 L234.4,1440.9 L234.5,1440.6 L234.7,1440.3 L234.8,1440.1 L234.9,1439.8 L235.0,1439.5 L235.1,1439.2 L235.3,1438.8 L235.4,1438.5 L235.5,1438.1 L235.7,1437.8 L235.9,1437.4 L236.0,1437.0 L236.2,1436.6 L236.4,1436.2 L236.5,1435.7 L236.7,1435.3 L236.9,1434.8 L237.1,1434.3 L237.3,1433.8 L237.5,1433.3 L237.8,1432.7 L238.0,1432.2 L238.2,1431.6 L238.5,1431.0 L238.7,1430.4 L239.0,1429.8 L239.2,1429.1 L239.5,1428.5 L239.8,1427.8 L240.1,1427.1 L240.3,1426.4 L240.6,1425.6 L241.0,1424.9 L241.3,1424.1 L241.6,1423.3 L241.9,1422.5 L242.3,1421.6 L242.6,1420.7 L243.0,1419.9 L243.4,1418.9 L243.7,1418.0 L244.1,1417.1 L244.5,1416.1 L244.9,1415.1 L245.4,1414.1 L245.8,1413.0 L246.2,1412.0 L246.7,1410.9 L247.1,1409.7 L247.6,1408.6 L248.1,1407.4 L248.5,1406.2 L249.0,1405.0 L249.5,1403.8 L250.1,1402.5 L250.6,1401.2 L251.1,1399.9 L251.7,1398.5 L252.2,1397.2 L252.8,1395.8 L253.4,1394.3 L254.0,1392.9 L254.6,1391.4 L255.2,1389.9 L255.8,1388.3 L256.5,1386.8 L257.1,1385.2 L257.8,1383.5 L258.5,1381.9 L259.2,1380.2 L259.9,1378.5 L260.6,1376.7 L261.3,1374.9 L262.0,1373.1 L262.8,1371.3 L263.6,1369.4 L264.3,1367.5 L265.1,1365.5 L265.9,1363.6 L266.7,1361.6 L267.6,1359.5 L268.4,1357.5 L269.3,1355.4 L270.1,1353.3 L271.0,1351.1 L271.9,1348.9 L272.8,1346.7 L273.7,1344.5 L274.6,1342.2 L275.6,1339.9 L276.5,1337.6 L277.5,1335.3 L278.4,1332.9 L279.4,1330.5 L280.4,1328.1 L281.4,1325.6 L282.4,1323.2 L283.4,1320.7 L284.4,1318.1 L285.5,1315.6 L286.5,1313.0 L287.6,1310.5 L288.6,1307.8 L289.7,1305.2 L290.8,1302.6 L291.9,1299.9 L293.0,1297.2 L294.1,1294.5 L295.2,1291.8 L296.3,1289.0 L297.4,1286.2 L298.6,1283.5 L299.7,1280.7 L300.9,1277.8 L302.0,1275.0 L303.2,1272.1 L304.4,1269.3 L305.6,1266.4 L306.7,1263.5 L307.9,1260.6 L309.1,1257.6 L310.3,1254.7 L311.5,1251.7 L312.7,1248.7 L314.0,1245.8 L315.2,1242.8 L316.4,1239.7 L317.7,1236.7 L318.9,1233.7 L320.1,1230.6 L321.4,1227.6 L322.6,1224.5 L323.9,1221.4 L325.2,1218.4 L326.4,1215.3 L327.7,1212.2 L329.0,1209.1 L330.2,1205.9 L331.5,1202.8 L332.8,1199.7 L334.1,1196.5 L335.4,1193.4 L336.7,1190.2 L337.9,1187.1 L339.2,1183.9 L340.5,1180.8 L341.8,1177.6 L343.1,1174.4 L344.4,1171.2 L345.7,1168.1 L347.0,1164.9 L348.3,1161.7 L349.6,1158.5 L350.9,1155.3 L352.3,1152.2 L353.6,1149.0 L354.9,1145.8 L356.2,1142.6 L357.5,1139.4 L358.8,1136.2 L360.1,1133.0 L361.4,1129.9 L362.7,1126.7 L364.0,1123.5 L365.3,1120.3 L366.6,1117.2 L367.9,1114.0 L369.2,1110.9 L370.5,1107.7 L371.8,1104.6 L373.1,1101.4 L374.4,1098.3 L375.7,1095.1 L376.9,1092.0 L378.2,1088.9 L379.5,1085.8 L380.8,1082.7 L382.0,1079.6 L383.3,1076.5 L384.6,1073.4 L385.8,1070.4 L387.1,1067.3 L388.4,1064.3 L389.6,1061.3 L390.8,1058.2 L392.1,1055.2 L393.3,1052.2 L394.6,1049.3 L395.8,1046.3 L397.0,1043.3 L398.2,1040.4 L399.4,1037.5 L400.6,1034.5 L401.8,1031.6 L403.0,1028.8 L404.2,1025.9 L405.4,1023.0 L406.6,1020.2 L407.7,1017.4 L408.9,1014.6 L410.0,1011.8 L411.2,1009.0 L412.3,1006.3 L413.5,1003.6 L414.6,1000.8 L415.7,998.1 L416.8,995.4 L417.9,992.8 L419.0,990.1 L420.1,987.5 L421.2,984.8 L422.3,982.2 L423.4,979.6 L424.5,977.0 L425.6,974.5 L426.6,971.9 L427.7,969.4 L428.7,966.8 L429.8,964.3 L430.8,961.8 L431.9,959.3 L432.9,956.9 L433.9,954.4 L434.9,952.0 L436.0,949.5 L437.0,947.1 L438.0,944.7 L439.0,942.3 L440.0,939.9 L441.0,937.5 L442.0,935.2 L443.0,932.8 L443.9,930.5 L444.9,928.2 L445.9,925.9 L446.8,923.5 L447.8,921.3 L448.8,919.0 L449.7,916.7 L450.7,914.5 L451.6,912.2 L452.6,910.0 L453.5,907.7 L454.4,905.5 L455.3,903.3 L456.3,901.1 L457.2,898.9 L458.1,896.8 L459.0,894.6 L459.9,892.4 L460.8,890.3 L461.7,888.2 L462.6,886.0 L463.5,883.9 L464.4,881.8 L465.3,879.7 L466.2,877.6 L467.1,875.5 L468.0,873.4 L468.8,871.4 L469.7,869.3 L470.6,867.3 L471.4,865.2 L472.3,863.2 L473.2,861.1 L474.0,859.1 L474.9,857.1 L475.7,855.1 L476.6,853.1 L477.4,851.1 L478.3,849.1 L479.1,847.1 L480.0,845.1 L480.8,843.2 L481.6,841.2 L482.5,839.2 L483.3,837.3 L484.1,835.3 L485.0,833.4 L485.8,831.5 L486.6,829.5 L487.4,827.6 L488.2,825.7 L489.1,823.8 L489.9,821.8 L490.7,819.9 L491.5,818.0 L492.3,816.1 L493.1,814.2 L493.9,812.3 L494.7,810.5 L495.5,808.6 L496.3,806.7 L497.1,804.8 L497.9,802.9 L498.7,801.1 L499.5,799.2 L500.3,797.3 L501.1,795.5 L501.9,793.6 L502.7,791.7 L503.5,789.9 L504.3,788.0 L505.1,786.2 L505.9,784.3 L506.7,782.5 L507.5,780.6 L508.2,778.8 L509.0,776.9 L509.8,775.1 L510.6,773.2 L511.4,771.4 L512.2,769.6 L513.0,767.7 L513.8,765.9 L514.5,764.0 L515.3,762.2 L516.1,760.4 L516.9,758.5 L517.7,756.7 L518.5,754.8 L519.3,753.0 L520.1,751.2 L520.8,749.3 L521.6,747.5 L522.4,745.6 L523.2,743.8 L524.0,742.0 L524.8,740.1 L525.6,738.3 L526.3,736.4 L527.1,734.6 L527.9,732.8 L528.7,730.9 L529.5,729.1 L530.3,727.2 L531.1,725.4 L531.9,723.6 L532.6,721.7 L533.4,719.9 L534.2,718.1 L535.0,716.2 L535.8,714.4 L536.6,712.6 L537.4,710.7 L538.2,708.9 L538.9,707.1 L539.7,705.3 L540.5,703.4 L541.3,701.6 L542.1,699.8 L542.9,698.0 L543.7,696.1 L544.4,694.3 L545.2,692.5 L546.0,690.7 L546.8,688.8 L547.6,687.0 L548.4,685.2 L549.2,683.4 L550.0,681.6 L550.7,679.8 L551.5,677.9 L552.3,676.1 L553.1,674.3 L553.9,672.5 L554.7,670.7 L555.5,668.9 L556.2,667.1 L557.0,665.3 L557.8,663.5 L558.6,661.7 L559.4,659.9 L560.2,658.1 L561.0,656.3 L561.8,654.5 L562.5,652.7 L563.3,650.9 L564.1,649.1 L564.9,647.4 L565.7,645.6 L566.5,643.8 L567.3,642.0 L568.0,640.2 L568.8,638.4 L569.6,636.7 L570.4,634.9 L571.2,633.1 L572.0,631.4 L572.8,629.6 L573.5,627.8 L574.3,626.1 L575.1,624.3 L575.9,622.5 L576.7,620.8 L577.5,619.0 L578.3,617.3 L579.1,615.5 L579.8,613.8 L580.6,612.0 L581.4,610.3 L582.2,608.6 L583.0,606.8 L583.8,605.1 L584.6,603.3 L585.3,601.6 L586.1,599.9 L586.9,598.2 L587.7,596.4 L588.5,594.7 L589.3,593.0 L590.1,591.3 L590.8,589.6 L591.6,587.9 L592.4,586.2 L593.2,584.5 L594.0,582.8 L594.8,581.1 L595.6,579.4 L596.3,577.7 L597.1,576.0 L597.9,574.3 L598.7,572.6 L599.5,570.9 L600.3,569.2 L601.1,567.6 L601.8,565.9 L602.6,564.2 L603.4,562.6 L604.2,560.9 L605.0,559.2 L605.8,557.6 L606.5,555.9 L607.3,554.3 L608.1,552.6 L608.9,551.0 L609.7,549.4 L610.5,547.7 L611.3,546.1 L612.0,544.5 L612.8,542.8 L613.6,541.2 L614.4,539.6 L615.2,538.0 L616.0,536.4 L616.7,534.8 L617.5,533.2 L618.3,531.6 L619.1,530.0 L619.9,528.4 L620.7,526.8 L621.4,525.2 L622.2,523.6 L623.0,522.1 L623.8,520.5 L624.6,518.9 L625.4,517.4 L626.2,515.8 L626.9,514.3 L627.7,512.7 L628.5,511.2 L629.3,509.6 L630.1,508.1 L630.9,506.6 L631.6,505.0 L632.4,503.5 L633.2,502.0 L634.0,500.5 L634.8,499.0 L635.6,497.5 L636.3,496.0 L637.1,494.5 L637.9,493.0 L638.7,491.5 L639.5,490.0 L640.3,488.6 L641.0,487.1 L641.8,485.6 L642.6,484.2 L643.4,482.7 L644.2,481.3 L645.0,479.8 L645.7,478.4 L646.5,476.9 L647.3,475.5 L648.1,474.1 L648.9,472.7 L649.7,471.3 L650.4,469.9 L651.2,468.5 L652.0,467.1 L652.8,465.7 L653.6,464.3 L654.3,462.9 L655.1,461.5 L655.9,460.2 L656.7,458.8 L657.5,457.5 L658.3,456.1 L659.0,454.8 L659.8,453.4 L660.6,452.1 L661.4,450.8 L662.2,449.5 L663.0,448.1 L663.7,446.8 L664.5,445.5 L665.3,444.2 L666.1,443.0 L666.9,441.7 L667.7,440.4 L668.4,439.1 L669.2,437.9 L670.0,436.6 L670.8,435.4 L671.6,434.1 L672.4,432.9 L673.1,431.7 L673.9,430.4 L674.7,429.2 L675.5,428.0 L676.3,426.8 L677.1,425.6 L677.8,424.4 L678.6,423.2 L679.4,422.1 L680.2,420.9 L681.0,419.7 L681.8,418.6 L682.5,417.4 L683.3,416.3 L684.1,415.2 L684.9,414.0 L685.7,412.9 L686.5,411.8 L687.2,410.7 L688.0,409.6 L688.8,408.5 L689.6,407.5 L690.4,406.4 L691.2,405.3 L691.9,404.3 L692.7,403.2 L693.5,402.2 L694.3,401.1 L695.1,400.1 L695.9,399.1 L696.6,398.1 L697.4,397.1 L698.2,396.1 L699.0,395.1 L699.8,394.1 L700.6,393.2 L701.3,392.2 L702.1,391.2 L702.9,390.3 L703.7,389.3 L704.5,388.4 L705.3,387.5 L706.1,386.6 L706.8,385.7 L707.6,384.8 L708.4,383.9 L709.2,383.0 L710.0,382.1 L710.8,381.3 L711.6,380.4 L712.3,379.6 L713.1,378.7 L713.9,377.9 L714.7,377.1 L715.5,376.2 L716.3,375.4 L717.1,374.6 L717.9,373.8 L718.7,373.0 L719.5,372.2 L720.3,371.5 L721.1,370.7 L721.9,369.9 L722.7,369.2 L723.5,368.4 L724.3,367.7 L725.1,366.9 L725.9,366.2 L726.7,365.5 L727.5,364.8 L728.3,364.1 L729.1,363.4 L729.9,362.7 L730.7,362.0 L731.6,361.3 L732.4,360.6 L733.2,359.9 L734.0,359.3 L734.8,358.6 L735.7,358.0 L736.5,357.3 L737.3,356.7 L738.2,356.0 L739.0,355.4 L739.8,354.8 L740.7,354.1 L741.5,353.5 L742.4,352.9 L743.2,352.3 L744.1,351.7 L744.9,351.1 L745.8,350.5 L746.7,349.9 L747.5,349.4 L748.4,348.8 L749.3,348.2 L750.1,347.6 L751.0,347.1 L751.9,346.5 L752.8,346.0 L753.7,345.4 L754.5,344.9 L755.4,344.3 L756.3,343.8 L757.2,343.3 L758.1,342.8 L759.0,342.2 L759.9,341.7 L760.9,341.2 L761.8,340.7 L762.7,340.2 L763.6,339.7 L764.6,339.2 L765.5,338.7 L766.4,338.2 L767.4,337.7 L768.3,337.2 L769.3,336.8 L770.2,336.3 L771.2,335.8 L772.1,335.3 L773.1,334.9 L774.1,334.4 L775.1,333.9 L776.0,333.5 L777.0,333.0 L778.0,332.6 L779.0,332.1 L780.0,331.7 L781.0,331.3 L782.0,330.8 L783.0,330.4 L784.0,329.9 L785.1,329.5 L786.1,329.1 L787.1,328.6 L788.2,328.2 L789.2,327.8 L790.3,327.4 L791.3,327.0 L792.4,326.5 L793.5,326.1 L794.5,325.7 L795.6,325.3 L796.7,324.9 L797.8,324.5 L798.9,324.1 L800.0,323.7 L801.1,323.3 L802.2,322.9 L803.3,322.5 L804.4,322.1 L805.6,321.7 L806.7,321.3 L807.8,320.9 L809.0,320.5 L810.1,320.1 L811.3,319.7 L812.5,319.3 L813.6,318.9 L814.8,318.5 L816.0,318.2 L817.2,317.8 L818.4,317.4 L819.6,317.0 L820.8,316.6 L822.1,316.2 L823.3,315.8 L824.5,315.5 L825.7,315.1 L827.0,314.7 L828.2,314.3 L829.5,313.9 L830.8,313.6 L832.0,313.2 L833.3,312.8 L834.6,312.4 L835.9,312.1 L837.1,311.7 L838.4,311.3 L839.7,310.9 L841.0,310.6 L842.4,310.2 L843.7,309.8 L845.0,309.5 L846.3,309.1 L847.7,308.7 L849.0,308.4 L850.3,308.0 L851.7,307.6 L853.0,307.3 L854.4,306.9 L855.7,306.5 L857.1,306.2 L858.5,305.8 L859.9,305.5 L861.2,305.1 L862.6,304.7 L864.0,304.4 L865.4,304.0 L866.8,303.7 L868.2,303.3 L869.6,303.0 L871.0,302.6 L872.4,302.3 L873.9,301.9 L875.3,301.6 L876.7,301.2 L878.1,300.9 L879.6,300.5 L881.0,300.2 L882.4,299.8 L883.9,299.5 L885.3,299.1 L886.8,298.8 L888.3,298.5 L889.7,298.1 L891.2,297.8 L892.6,297.4 L894.1,297.1 L895.6,296.8 L897.1,296.4 L898.5,296.1 L900.0,295.8 L901.5,295.4 L903.0,295.1 L904.5,294.8 L906.0,294.4 L907.5,294.1 L909.0,293.8 L910.5,293.4 L912.0,293.1 L913.5,292.8 L915.0,292.5 L916.5,292.1 L918.0,291.8 L919.6,291.5 L921.1,291.2 L922.6,290.9 L924.1,290.5 L925.7,290.2 L927.2,289.9 L928.7,289.6 L930.3,289.3 L931.8,289.0 L933.3,288.6 L934.9,288.3 L936.4,288.0 L938.0,287.7 L939.5,287.4 L941.0,287.1 L942.6,286.8 L944.1,286.5 L945.7,286.2 L947.2,285.9 L948.8,285.6 L950.4,285.3 L951.9,285.0 L953.5,284.7 L955.0,284.4 L956.6,284.1 L958.1,283.8 L959.7,283.5 L961.3,283.2 L962.8,282.9 L964.4,282.6 L966.0,282.3 L967.5,282.0 L969.1,281.7 L970.7,281.4 L972.2,281.1 L973.8,280.8 L975.4,280.5 L976.9,280.3 L978.5,280.0 L980.1,279.7 L981.7,279.4 L983.2,279.1 L984.8,278.8 L986.4,278.6 L987.9,278.3 L989.5,278.0 L991.1,277.7 L992.7,277.5 L994.2,277.2 L995.8,276.9 L997.4,276.6 L999.0,276.4 L1000.6,276.1 L1002.1,275.8 L1003.7,275.6 L1005.3,275.3 L1006.9,275.0 L1008.6,274.8 L1010.2,274.5 L1011.8,274.2 L1013.4,274.0 L1015.1,273.7 L1016.7,273.4 L1018.4,273.2 L1020.0,272.9 L1021.7,272.7 L1023.4,272.4 L1025.1,272.1 L1026.8,271.9 L1028.5,271.6 L1030.2,271.4 L1032.0,271.1 L1033.7,270.9 L1035.5,270.6 L1037.2,270.4 L1039.0,270.1 L1040.8,269.9 L1042.6,269.6 L1044.5,269.4 L1046.3,269.1 L1048.2,268.9 L1050.1,268.6 L1052.0,268.4 L1053.9,268.2 L1055.8,267.9 L1057.7,267.7 L1059.7,267.4 L1061.7,267.2 L1063.7,267.0 L1065.7,266.7 L1067.8,266.5 L1069.8,266.2 L1071.9,266.0 L1074.0,265.8 L1076.2,265.5 L1078.3,265.3 L1080.5,265.1 L1082.7,264.8 L1084.9,264.6 L1087.1,264.4 L1089.4,264.1 L1091.7,263.9 L1094.0,263.7 L1096.4,263.5 L1098.7,263.2 L1101.1,263.0 L1103.5,262.8 L1106.0,262.5 L1108.5,262.3 L1111.0,262.1 L1113.5,261.9 L1116.1,261.6 L1118.7,261.4 L1121.3,261.2 L1124.0,261.0 L1126.7,260.8 L1129.4,260.5 L1132.1,260.3 L1134.9,260.1 L1137.7,259.9 L1140.6,259.7 L1143.5,259.4 L1146.4,259.2 L1149.3,259.0 L1152.3,258.8 L1155.3,258.6 L1158.4,258.4 L1161.5,258.2 L1164.6,257.9 L1167.8,257.7 L1171.0,257.5 L1174.2,257.3 L1177.5,257.1 L1180.8,256.9 L1184.2,256.7 L1187.6,256.5 L1191.0,256.2 L1194.5,256.0 L1198.0,255.8 L1201.6,255.6 L1205.2,255.4 L1208.8,255.2 L1212.5,255.0 L1216.2,254.8 L1220.0,254.6 L1223.8,254.4 L1227.7,254.2 L1231.6,254.0 L1235.6,253.8 L1239.6,253.6 L1243.6,253.4 L1247.7,253.2 L1251.8,253.0 L1256.0,252.8 L1260.3,252.6 L1264.5,252.4 L1268.9,252.1 L1273.3,251.9 L1277.7,251.7 L1282.2,251.5 L1286.7,251.3 L1291.3,251.1 L1295.9,250.9 L1300.6,250.8 L1305.3,250.6 L1310.1,250.4 L1315.0,250.2 L1319.9,250.0 L1324.8,249.8 L1329.8,249.6 L1334.8,249.4 L1339.9,249.2 L1345.0,249.0 L1350.2,248.8 L1355.4,248.6 L1360.6,248.4 L1365.9,248.2 L1371.3,248.0 L1376.6,247.8 L1382.0,247.6 L1387.5,247.4 L1392.9,247.2 L1398.5,247.0 L1404.0,246.9 L1409.6,246.7 L1415.2,246.5 L1420.8,246.3 L1426.5,246.1 L1432.2,245.9 L1437.9,245.7 L1443.7,245.5 L1449.5,245.3 L1455.3,245.2 L1461.1,245.0 L1467.0,244.8 L1472.8,244.6 L1478.7,244.4 L1484.6,244.2 L1490.6,244.1 L1496.5,243.9 L1502.5,243.7 L1508.5,243.5 L1514.5,243.3 L1520.5,243.2 L1526.5,243.0 L1532.6,242.8 L1538.6,242.6 L1544.7,242.4 L1550.7,242.3 L1556.8,242.1 L1562.9,241.9 L1569.0,241.8 L1575.1,241.6 L1581.2,241.4 L1587.3,241.2 L1593.4,241.1 L1599.5,240.9 L1605.6,240.7 L1611.7,240.6 L1617.8,240.4 L1623.9,240.2 L1630.0,240.1 L1636.1,239.9 L1642.2,239.7 L1648.3,239.6 L1654.4,239.4 L1660.4,239.3 L1666.5,239.1 L1672.5,238.9 L1678.6,238.8 L1684.6,238.6 L1690.6,238.5 L1696.6,238.3 L1702.6,238.2 L1708.5,238.0 L1714.5,237.9 L1720.4,237.7 L1726.3,237.6 L1732.2,237.4 L1738.1,237.3 L1743.9,237.1 L1749.8,237.0 L1755.5,236.8 L1761.3,236.7 L1767.1,236.6 L1772.8,236.4 L1778.5,236.3 L1784.1,236.1 L1789.8,236.0 L1795.4,235.9 L1800.9,235.7 L1806.5,235.6 L1812.0,235.5 L1817.4,235.3 L1822.9,235.2 L1828.3,235.1 L1833.6,234.9 L1838.9,234.8 L1844.2,234.7 L1849.4,234.6 L1854.6,234.4 L1859.8,234.3 L1864.9,234.2 L1869.9,234.1 L1875.0,234.0 L1879.9,233.9 L1884.9,233.7 L1889.7,233.6 L1894.5,233.5 L1899.3,233.4 L1904.0,233.3 L1908.7,233.2 L1913.3,233.1 L1917.9,233.0 L1922.4,232.9 L1926.8,232.8 L1931.2,232.7 L1935.5,232.6 L1939.8,232.5 L1944.0,232.4 L1948.2,232.3 L1952.3,232.2 L1956.3,232.1 L1960.2,232.0 L1964.1,231.9 L1968.0,231.8 L1971.7,231.7 L1975.4,231.7 L1979.1,231.6 L1982.6,231.5 L1986.2,231.4 L1989.6,231.3 L1993.0,231.2 L1996.3,231.2 L1999.6,231.1 L2002.8,231.0 L2006.0,231.0 L2009.1,230.9 L2012.1,230.8 L2015.1,230.7 L2018.0,230.7 L2020.9,230.6 L2023.7,230.5 L2026.4,230.5 L2029.1,230.4 L2031.8,230.4 L2034.4,230.3 L2036.9,230.2 L2039.4,230.2 L2041.8,230.1 L2044.2,230.1 L2046.5,230.0 L2048.8,230.0 L2051.0,229.9 L2053.2,229.9 L2055.4,229.8 L2057.5,229.8 L2059.5,229.7 L2061.5,229.7 L2063.4,229.6 L2065.3,229.6 L2067.2,229.5 L2069.0,229.5 L2070.8,229.5 L2072.5,229.4 L2074.2,229.4 L2075.8,229.4 L2077.4,229.3 L2079.0,229.3 L2080.5,229.2 L2081.9,229.2 L2083.4,229.2 L2084.8,229.1 L2086.1,229.1 L2087.4,229.1 L2088.7,229.1 L2090.0,229.0 L2091.2,229.0 L2092.3,229.0 L2093.5,228.9 L2094.6,228.9 L2095.6,228.9 L2096.7,228.9 L2097.7,228.8 L2098.6,228.8 L2099.6,228.8 L2100.5,228.8 L2101.3,228.8 L2102.2,228.7 L2103.0,228.7 L2103.8,228.7 L2104.5,228.7 L2105.2,228.7 L2105.9,228.7 L2106.6,228.6 L2107.2,228.6 L2107.9,228.6 L2108.5,228.6 L2109.0,228.6 L2109.6,228.6 L2110.1,228.6 L2110.6,228.6 L2111.0,228.5 L2111.5,228.5 L2111.9,228.5 L2112.3,228.5 L2112.7,228.5 L2113.1,228.5 L2113.4,228.5 L2113.7,228.5 L2114.0,228.5 L2114.3,228.5 L2114.6,228.5 L2114.8,228.5 L2115.1,228.5 L2115.3,228.4 L2115.5,228.4 L2115.7,228.4 L2115.9,228.4 L2116.0,228.4 L2116.2,228.4 L2116.3,228.4 L2116.5,228.4 L2116.6,228.4 L2116.7,228.4 L2116.8,228.4 L2116.9,228.4 L2116.9,228.4 L2117.0,228.4 L2117.1,228.4 L2117.1,228.4 L2117.1,228.4 L2117.2,228.4 L2117.2,228.4 L2117.2,228.4 L2117.3,228.4 L2117.3,228.4 L2117.3,228.4 L2117.3,228.4 L2117.3,228.4 L2117.3,228.4 L2117.3,228.4 L2117.3,228.4 L2117.3,228.4" stroke="#008080" stroke-width="3.5" fill="none" stroke-linejoin="round"/>
<polygon points="233.00,1469.10 254.39,1432.05 211.61,1432.05" fill="#008080"/>
<polygon points="421.00,1007.60 442.39,970.55 399.61,970.55" fill="#008080"/>
<polygon points="515.30,787.00 536.69,749.95 493.91,749.95" fill="#008080"/>
<polygon points="609.80,565.80 631.19,528.75 588.41,528.75" fill="#008080"/>
<polygon points="703.60,394.20 724.99,357.15 682.21,357.15" fill="#008080"/>
<polygon points="798.00,341.70 819.39,304.65 776.61,304.65" fill="#008080"/>
<polygon points="986.30,300.80 1007.69,263.75 964.91,263.75" fill="#008080"/>
<polygon points="1175.00,273.70 1196.39,236.65 1153.61,236.65" fill="#008080"/>
<polygon points="2117.30,252.10 2138.69,215.05 2095.91,215.05" fill="#008080"/>
</g>
</svg>
</body></html>
